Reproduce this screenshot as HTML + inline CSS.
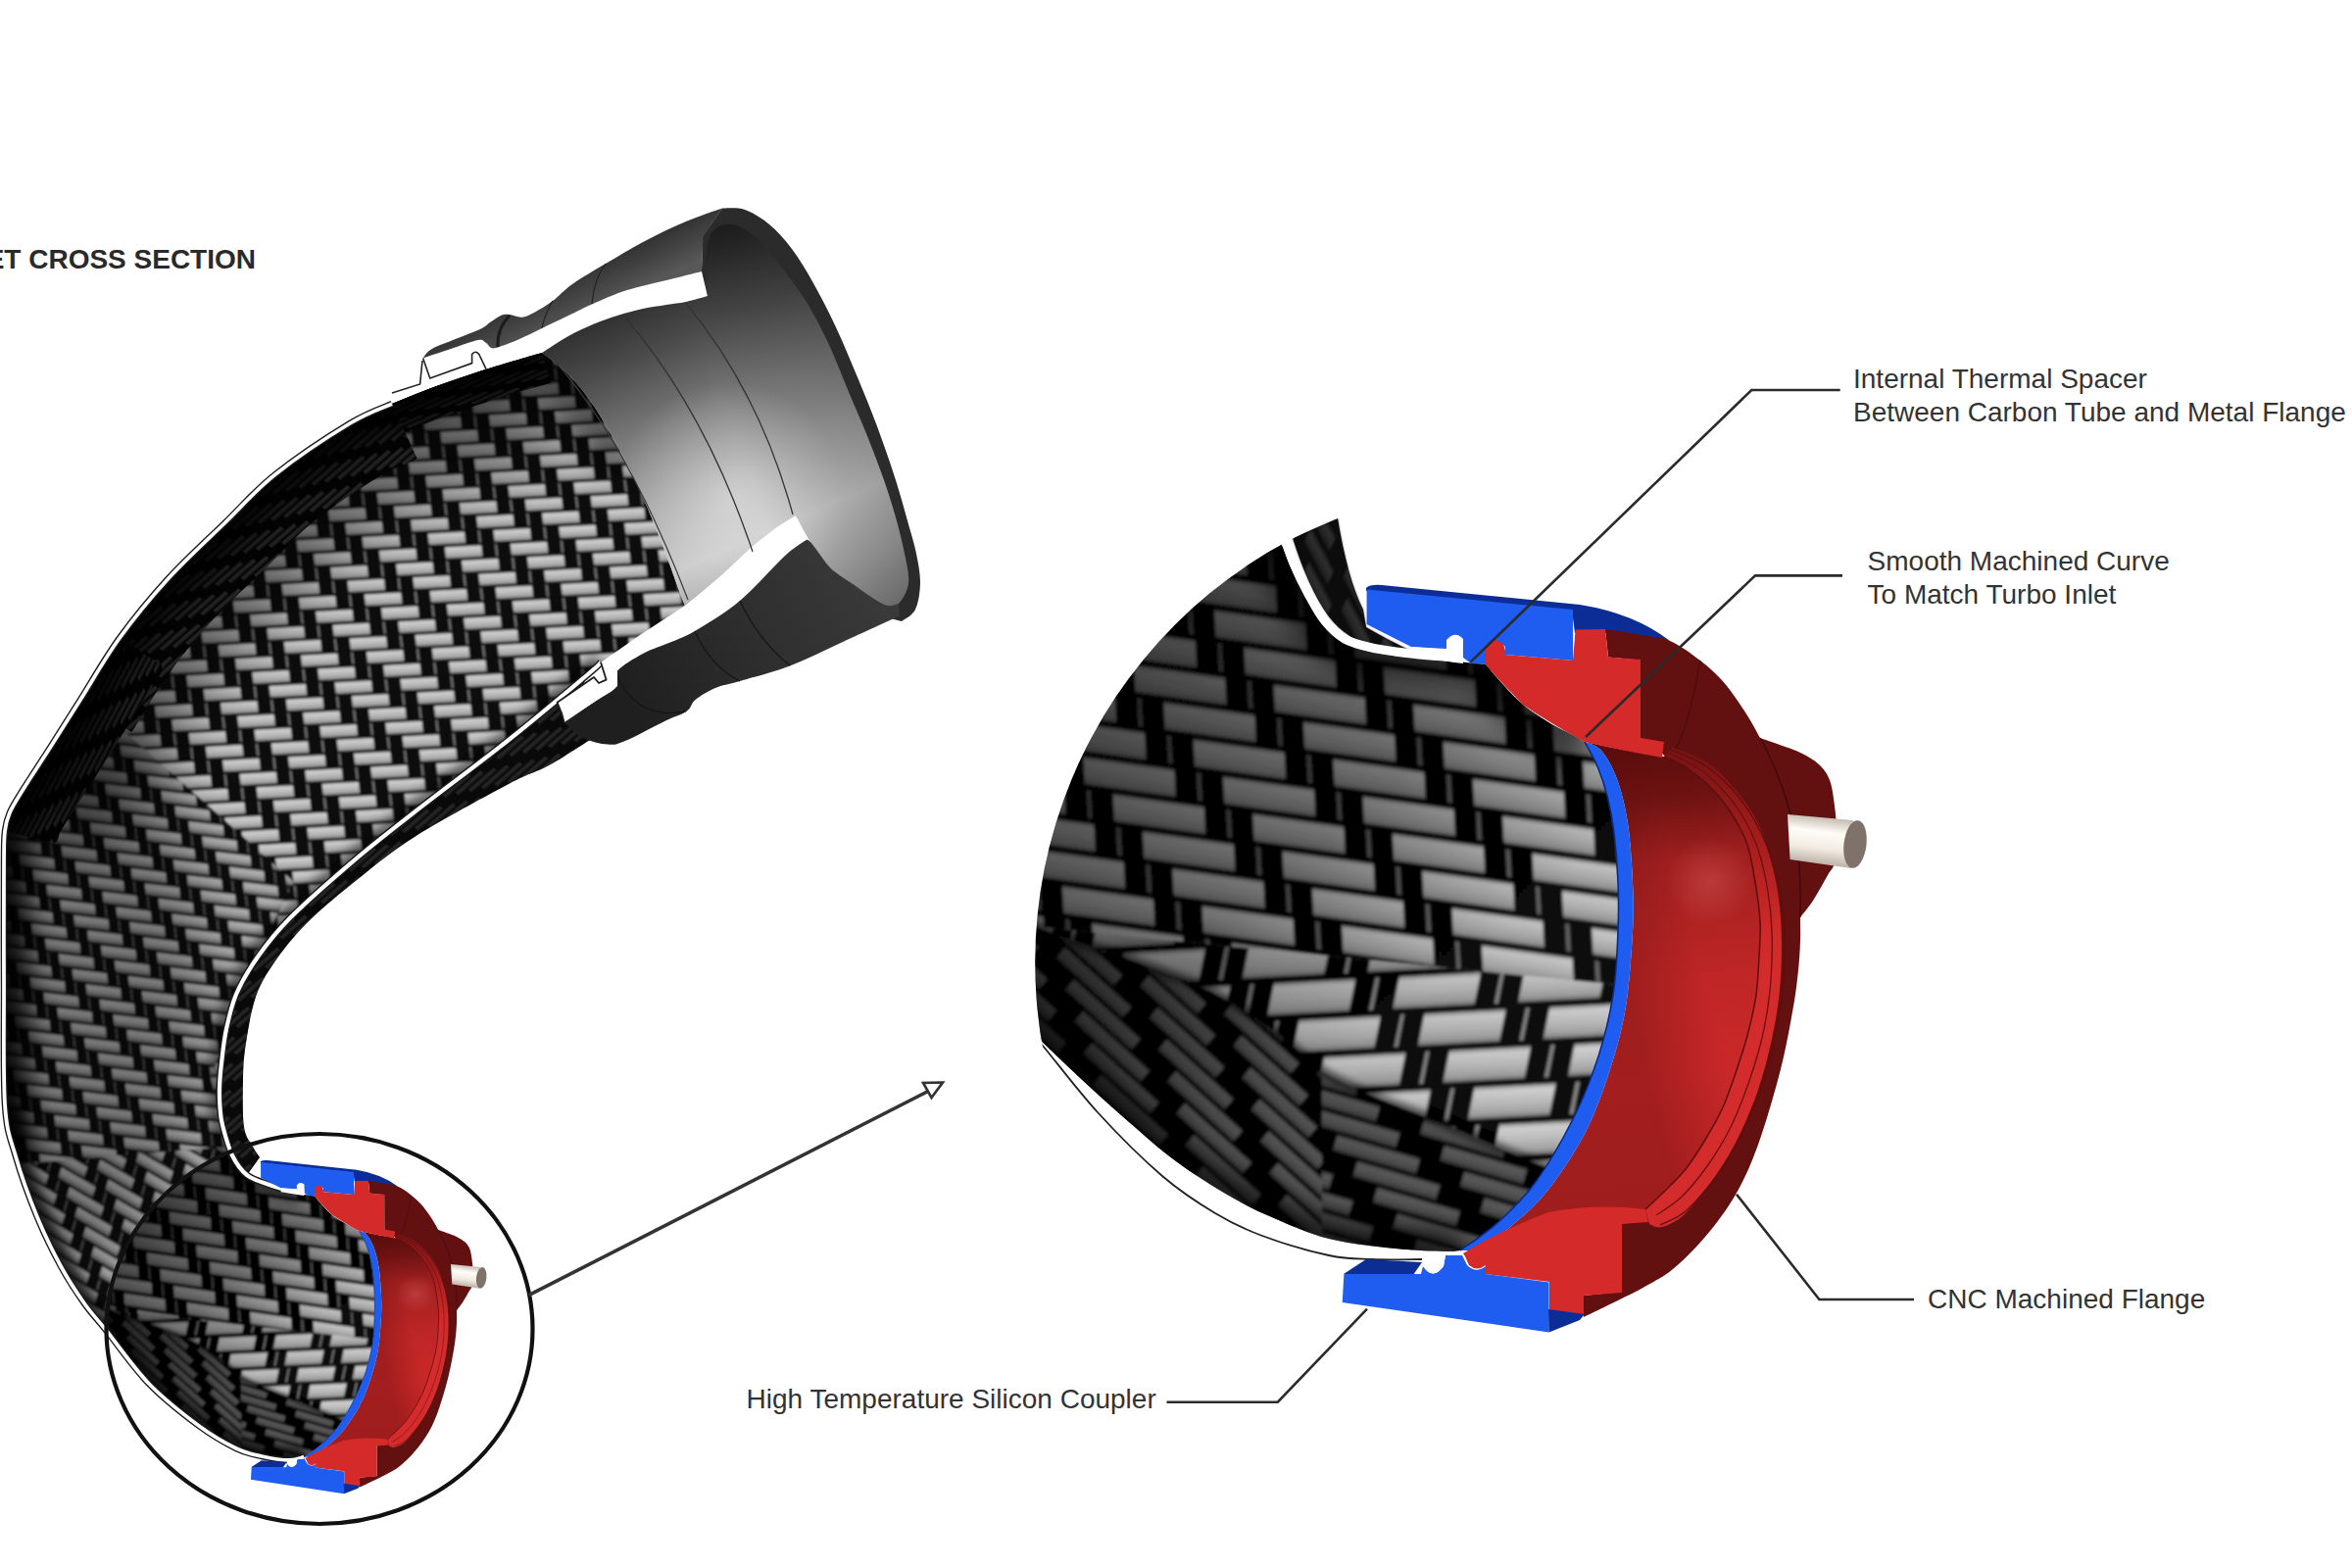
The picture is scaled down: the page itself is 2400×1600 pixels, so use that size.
<!DOCTYPE html>
<html lang="en"><head><meta charset="utf-8"><title>Inlet Cross Section</title>
<style>
html,body{margin:0;padding:0;background:#fff;}
body{width:2400px;height:1600px;overflow:hidden;font-family:"Liberation Sans",Arial,sans-serif;}
svg{display:block;position:absolute;left:0;top:0}
text{font-family:"Liberation Sans",Arial,sans-serif;}
</style></head><body>
<svg width="2400" height="1600" viewBox="0 0 2400 1600">
<defs><linearGradient id="wA1g" x1="0" y1="0" x2="0" y2="1"><stop offset="0" stop-color="#8a8a8a"/><stop offset="0.15" stop-color="#cfcfcf"/><stop offset="0.55" stop-color="#b8b8b8"/><stop offset="0.85" stop-color="#a0a0a0"/><stop offset="1" stop-color="#6e6e6e"/></linearGradient><pattern id="wA1" width="5" height="5" patternUnits="userSpaceOnUse" patternTransform="matrix(12.716,-2.703,3.508,14.069,520,420)"><rect x="-1" y="-1" width="7" height="7" fill="#070707"/><polygon points="0.01,0.07 3.11,0.07 2.99,0.93 -0.11,0.93" fill="url(#wA1g)"/><polygon points="5.01,0.07 8.11,0.07 7.99,0.93 4.89,0.93" fill="url(#wA1g)"/><polygon points="1.01,1.07 4.11,1.07 3.99,1.93 0.89,1.93" fill="url(#wA1g)"/><polygon points="-2.99,2.07 0.11,2.07 -0.01,2.93 -3.11,2.93" fill="url(#wA1g)"/><polygon points="2.01,2.07 5.11,2.07 4.99,2.93 1.89,2.93" fill="url(#wA1g)"/><polygon points="-1.99,3.07 1.11,3.07 0.99,3.93 -2.11,3.93" fill="url(#wA1g)"/><polygon points="3.01,3.07 6.11,3.07 5.99,3.93 2.89,3.93" fill="url(#wA1g)"/><polygon points="-0.99,4.07 2.11,4.07 1.99,4.93 -1.11,4.93" fill="url(#wA1g)"/><polygon points="4.01,4.07 7.11,4.07 6.99,4.93 3.89,4.93" fill="url(#wA1g)"/></pattern><linearGradient id="wAg" x1="0" y1="0" x2="0" y2="1"><stop offset="0" stop-color="#8a8a8a"/><stop offset="0.15" stop-color="#cfcfcf"/><stop offset="0.55" stop-color="#b8b8b8"/><stop offset="0.85" stop-color="#a0a0a0"/><stop offset="1" stop-color="#6e6e6e"/></linearGradient><pattern id="wA" width="5" height="5" patternUnits="userSpaceOnUse" patternTransform="matrix(13.382,-0.701,3.882,14.489,300,550)"><rect x="-1" y="-1" width="7" height="7" fill="#0c0c0c"/><polygon points="0.17,0.09 2.97,0.09 2.83,0.92 0.03,0.92" fill="url(#wAg)"/><polygon points="3.99,0.09 4.15,0.09 4.01,0.92 3.85,0.92" fill="#7a7a7a"/><polygon points="5.17,0.09 7.97,0.09 7.83,0.92 5.03,0.92" fill="url(#wAg)"/><polygon points="-0.01,1.08 0.15,1.08 0.01,1.92 -0.15,1.92" fill="#7a7a7a"/><polygon points="1.17,1.08 3.97,1.08 3.83,1.92 1.03,1.92" fill="url(#wAg)"/><polygon points="4.99,1.08 5.15,1.08 5.01,1.92 4.85,1.92" fill="#7a7a7a"/><polygon points="-2.83,2.08 -0.03,2.08 -0.17,2.92 -2.97,2.92" fill="url(#wAg)"/><polygon points="0.99,2.08 1.15,2.08 1.01,2.92 0.85,2.92" fill="#7a7a7a"/><polygon points="2.17,2.08 4.97,2.08 4.83,2.92 2.03,2.92" fill="url(#wAg)"/><polygon points="-1.83,3.08 0.97,3.08 0.83,3.92 -1.97,3.92" fill="url(#wAg)"/><polygon points="1.99,3.08 2.15,3.08 2.01,3.92 1.85,3.92" fill="#7a7a7a"/><polygon points="3.17,3.08 5.97,3.08 5.83,3.92 3.03,3.92" fill="url(#wAg)"/><polygon points="-0.83,4.08 1.97,4.08 1.83,4.92 -0.97,4.92" fill="url(#wAg)"/><polygon points="2.99,4.08 3.15,4.08 3.01,4.92 2.85,4.92" fill="#7a7a7a"/><polygon points="4.17,4.08 6.97,4.08 6.83,4.92 4.03,4.92" fill="url(#wAg)"/></pattern><linearGradient id="wBg" x1="0" y1="0" x2="0" y2="1"><stop offset="0" stop-color="#6a6a6a"/><stop offset="0.18" stop-color="#b4b4b4"/><stop offset="0.6" stop-color="#9c9c9c"/><stop offset="1" stop-color="#5c5c5c"/></linearGradient><pattern id="wB" width="5" height="5" patternUnits="userSpaceOnUse" patternTransform="matrix(11.414,1.401,2.483,14.083,0,0)"><rect x="-1" y="-1" width="7" height="7" fill="#070707"/><polygon points="-0.01,0.07 3.09,0.07 3.01,0.93 -0.09,0.93" fill="url(#wBg)"/><polygon points="3.96,0.07 4.12,0.07 4.04,0.93 3.88,0.93" fill="#555"/><polygon points="4.99,0.07 8.09,0.07 8.01,0.93 4.91,0.93" fill="url(#wBg)"/><polygon points="-0.04,1.07 0.12,1.07 0.04,1.93 -0.12,1.93" fill="#555"/><polygon points="0.99,1.07 4.09,1.07 4.01,1.93 0.91,1.93" fill="url(#wBg)"/><polygon points="4.96,1.07 5.12,1.07 5.04,1.93 4.88,1.93" fill="#555"/><polygon points="-3.01,2.07 0.09,2.07 0.01,2.93 -3.09,2.93" fill="url(#wBg)"/><polygon points="0.96,2.07 1.12,2.07 1.04,2.93 0.88,2.93" fill="#555"/><polygon points="1.99,2.07 5.09,2.07 5.01,2.93 1.91,2.93" fill="url(#wBg)"/><polygon points="-2.01,3.07 1.09,3.07 1.01,3.93 -2.09,3.93" fill="url(#wBg)"/><polygon points="1.96,3.07 2.12,3.07 2.04,3.93 1.88,3.93" fill="#555"/><polygon points="2.99,3.07 6.09,3.07 6.01,3.93 2.91,3.93" fill="url(#wBg)"/><polygon points="-1.01,4.07 2.09,4.07 2.01,4.93 -1.09,4.93" fill="url(#wBg)"/><polygon points="2.96,4.07 3.12,4.07 3.04,4.93 2.88,4.93" fill="#555"/><polygon points="3.99,4.07 7.09,4.07 7.01,4.93 3.91,4.93" fill="url(#wBg)"/></pattern><linearGradient id="wB2g" x1="0" y1="0" x2="0" y2="1"><stop offset="0" stop-color="#6a6a6a"/><stop offset="0.18" stop-color="#b4b4b4"/><stop offset="0.6" stop-color="#9c9c9c"/><stop offset="1" stop-color="#5c5c5c"/></linearGradient><pattern id="wB2" width="5" height="5" patternUnits="userSpaceOnUse" patternTransform="matrix(11.258,6.500,-2.911,13.694,0,0)"><rect x="-1" y="-1" width="7" height="7" fill="#070707"/><polygon points="-0.01,0.07 3.09,0.07 3.01,0.93 -0.09,0.93" fill="url(#wB2g)"/><polygon points="3.96,0.07 4.12,0.07 4.04,0.93 3.88,0.93" fill="#555"/><polygon points="4.99,0.07 8.09,0.07 8.01,0.93 4.91,0.93" fill="url(#wB2g)"/><polygon points="-0.04,1.07 0.12,1.07 0.04,1.93 -0.12,1.93" fill="#555"/><polygon points="0.99,1.07 4.09,1.07 4.01,1.93 0.91,1.93" fill="url(#wB2g)"/><polygon points="4.96,1.07 5.12,1.07 5.04,1.93 4.88,1.93" fill="#555"/><polygon points="-3.01,2.07 0.09,2.07 0.01,2.93 -3.09,2.93" fill="url(#wB2g)"/><polygon points="0.96,2.07 1.12,2.07 1.04,2.93 0.88,2.93" fill="#555"/><polygon points="1.99,2.07 5.09,2.07 5.01,2.93 1.91,2.93" fill="url(#wB2g)"/><polygon points="-2.01,3.07 1.09,3.07 1.01,3.93 -2.09,3.93" fill="url(#wB2g)"/><polygon points="1.96,3.07 2.12,3.07 2.04,3.93 1.88,3.93" fill="#555"/><polygon points="2.99,3.07 6.09,3.07 6.01,3.93 2.91,3.93" fill="url(#wB2g)"/><polygon points="-1.01,4.07 2.09,4.07 2.01,4.93 -1.09,4.93" fill="url(#wB2g)"/><polygon points="2.96,4.07 3.12,4.07 3.04,4.93 2.88,4.93" fill="#555"/><polygon points="3.99,4.07 7.09,4.07 7.01,4.93 3.91,4.93" fill="url(#wB2g)"/></pattern><linearGradient id="wE1g" x1="0" y1="0" x2="0" y2="1"><stop offset="0" stop-color="#1e1e1e"/><stop offset="0.3" stop-color="#4a4a4a"/><stop offset="0.7" stop-color="#3a3a3a"/><stop offset="1" stop-color="#1a1a1a"/></linearGradient><pattern id="wE1" width="5" height="5" patternUnits="userSpaceOnUse" patternTransform="matrix(8.302,-7.217,4.906,4.264,0,0)"><rect x="-1" y="-1" width="7" height="7" fill="#070707"/><polygon points="-0.05,0.10 3.05,0.10 3.05,0.90 -0.05,0.90" fill="url(#wE1g)"/><polygon points="4.95,0.10 8.05,0.10 8.05,0.90 4.95,0.90" fill="url(#wE1g)"/><polygon points="0.95,1.10 4.05,1.10 4.05,1.90 0.95,1.90" fill="url(#wE1g)"/><polygon points="-3.05,2.10 0.05,2.10 0.05,2.90 -3.05,2.90" fill="url(#wE1g)"/><polygon points="1.95,2.10 5.05,2.10 5.05,2.90 1.95,2.90" fill="url(#wE1g)"/><polygon points="-2.05,3.10 1.05,3.10 1.05,3.90 -2.05,3.90" fill="url(#wE1g)"/><polygon points="2.95,3.10 6.05,3.10 6.05,3.90 2.95,3.90" fill="url(#wE1g)"/><polygon points="-1.05,4.10 2.05,4.10 2.05,4.90 -1.05,4.90" fill="url(#wE1g)"/><polygon points="3.95,4.10 7.05,4.10 7.05,4.90 3.95,4.90" fill="url(#wE1g)"/></pattern><linearGradient id="wE2g" x1="0" y1="0" x2="0" y2="1"><stop offset="0" stop-color="#1e1e1e"/><stop offset="0.3" stop-color="#4a4a4a"/><stop offset="0.7" stop-color="#3a3a3a"/><stop offset="1" stop-color="#1a1a1a"/></linearGradient><pattern id="wE2" width="5" height="5" patternUnits="userSpaceOnUse" patternTransform="matrix(5.164,-9.712,3.052,5.739,0,0)"><rect x="-1" y="-1" width="7" height="7" fill="#070707"/><polygon points="-0.05,0.10 3.05,0.10 3.05,0.90 -0.05,0.90" fill="url(#wE2g)"/><polygon points="4.95,0.10 8.05,0.10 8.05,0.90 4.95,0.90" fill="url(#wE2g)"/><polygon points="0.95,1.10 4.05,1.10 4.05,1.90 0.95,1.90" fill="url(#wE2g)"/><polygon points="-3.05,2.10 0.05,2.10 0.05,2.90 -3.05,2.90" fill="url(#wE2g)"/><polygon points="1.95,2.10 5.05,2.10 5.05,2.90 1.95,2.90" fill="url(#wE2g)"/><polygon points="-2.05,3.10 1.05,3.10 1.05,3.90 -2.05,3.90" fill="url(#wE2g)"/><polygon points="2.95,3.10 6.05,3.10 6.05,3.90 2.95,3.90" fill="url(#wE2g)"/><polygon points="-1.05,4.10 2.05,4.10 2.05,4.90 -1.05,4.90" fill="url(#wE2g)"/><polygon points="3.95,4.10 7.05,4.10 7.05,4.90 3.95,4.90" fill="url(#wE2g)"/></pattern><linearGradient id="wE3g" x1="0" y1="0" x2="0" y2="1"><stop offset="0" stop-color="#1e1e1e"/><stop offset="0.3" stop-color="#4a4a4a"/><stop offset="0.7" stop-color="#3a3a3a"/><stop offset="1" stop-color="#1a1a1a"/></linearGradient><pattern id="wE3" width="5" height="5" patternUnits="userSpaceOnUse" patternTransform="matrix(10.049,-4.474,5.938,2.644,0,0)"><rect x="-1" y="-1" width="7" height="7" fill="#070707"/><polygon points="-0.05,0.10 3.05,0.10 3.05,0.90 -0.05,0.90" fill="url(#wE3g)"/><polygon points="4.95,0.10 8.05,0.10 8.05,0.90 4.95,0.90" fill="url(#wE3g)"/><polygon points="0.95,1.10 4.05,1.10 4.05,1.90 0.95,1.90" fill="url(#wE3g)"/><polygon points="-3.05,2.10 0.05,2.10 0.05,2.90 -3.05,2.90" fill="url(#wE3g)"/><polygon points="1.95,2.10 5.05,2.10 5.05,2.90 1.95,2.90" fill="url(#wE3g)"/><polygon points="-2.05,3.10 1.05,3.10 1.05,3.90 -2.05,3.90" fill="url(#wE3g)"/><polygon points="2.95,3.10 6.05,3.10 6.05,3.90 2.95,3.90" fill="url(#wE3g)"/><polygon points="-1.05,4.10 2.05,4.10 2.05,4.90 -1.05,4.90" fill="url(#wE3g)"/><polygon points="3.95,4.10 7.05,4.10 7.05,4.90 3.95,4.90" fill="url(#wE3g)"/></pattern><linearGradient id="wTg" x1="0" y1="0" x2="0" y2="1"><stop offset="0" stop-color="#1e1e1e"/><stop offset="0.3" stop-color="#4a4a4a"/><stop offset="0.7" stop-color="#3a3a3a"/><stop offset="1" stop-color="#1a1a1a"/></linearGradient><pattern id="wT" width="5" height="5" patternUnits="userSpaceOnUse" patternTransform="matrix(7.512,14.127,-9.298,19.939,1300,500)"><rect x="-1" y="-1" width="7" height="7" fill="#070707"/><polygon points="-0.05,0.10 3.05,0.10 3.05,0.90 -0.05,0.90" fill="url(#wTg)"/><polygon points="4.95,0.10 8.05,0.10 8.05,0.90 4.95,0.90" fill="url(#wTg)"/><polygon points="0.95,1.10 4.05,1.10 4.05,1.90 0.95,1.90" fill="url(#wTg)"/><polygon points="-3.05,2.10 0.05,2.10 0.05,2.90 -3.05,2.90" fill="url(#wTg)"/><polygon points="1.95,2.10 5.05,2.10 5.05,2.90 1.95,2.90" fill="url(#wTg)"/><polygon points="-2.05,3.10 1.05,3.10 1.05,3.90 -2.05,3.90" fill="url(#wTg)"/><polygon points="2.95,3.10 6.05,3.10 6.05,3.90 2.95,3.90" fill="url(#wTg)"/><polygon points="-1.05,4.10 2.05,4.10 2.05,4.90 -1.05,4.90" fill="url(#wTg)"/><polygon points="3.95,4.10 7.05,4.10 7.05,4.90 3.95,4.90" fill="url(#wTg)"/></pattern><linearGradient id="wZ1g" x1="0" y1="0" x2="0" y2="1"><stop offset="0" stop-color="#8a8a8a"/><stop offset="0.15" stop-color="#cfcfcf"/><stop offset="0.55" stop-color="#b8b8b8"/><stop offset="0.85" stop-color="#a0a0a0"/><stop offset="1" stop-color="#6e6e6e"/></linearGradient><pattern id="wZ1" width="5" height="5" patternUnits="userSpaceOnUse" patternTransform="matrix(28.520,4.008,1.779,33.953,1100,600)"><rect x="-1" y="-1" width="7" height="7" fill="#070707"/><polygon points="-0.13,0.08 3.13,0.08 3.13,0.92 -0.13,0.92" fill="url(#wZ1g)"/><polygon points="3.92,0.08 4.08,0.08 4.08,0.92 3.92,0.92" fill="#666"/><polygon points="4.87,0.08 8.13,0.08 8.13,0.92 4.87,0.92" fill="url(#wZ1g)"/><polygon points="-0.08,1.08 0.08,1.08 0.08,1.92 -0.08,1.92" fill="#666"/><polygon points="0.87,1.08 4.13,1.08 4.13,1.92 0.87,1.92" fill="url(#wZ1g)"/><polygon points="4.92,1.08 5.08,1.08 5.08,1.92 4.92,1.92" fill="#666"/><polygon points="-3.13,2.08 0.13,2.08 0.13,2.92 -3.13,2.92" fill="url(#wZ1g)"/><polygon points="0.92,2.08 1.08,2.08 1.08,2.92 0.92,2.92" fill="#666"/><polygon points="1.87,2.08 5.13,2.08 5.13,2.92 1.87,2.92" fill="url(#wZ1g)"/><polygon points="-2.13,3.08 1.13,3.08 1.13,3.92 -2.13,3.92" fill="url(#wZ1g)"/><polygon points="1.92,3.08 2.08,3.08 2.08,3.92 1.92,3.92" fill="#666"/><polygon points="2.87,3.08 6.13,3.08 6.13,3.92 2.87,3.92" fill="url(#wZ1g)"/><polygon points="-1.13,4.08 2.13,4.08 2.13,4.92 -1.13,4.92" fill="url(#wZ1g)"/><polygon points="2.92,4.08 3.08,4.08 3.08,4.92 2.92,4.92" fill="#666"/><polygon points="3.87,4.08 7.13,4.08 7.13,4.92 3.87,4.92" fill="url(#wZ1g)"/></pattern><linearGradient id="wZ2g" x1="0" y1="0" x2="0" y2="1"><stop offset="0" stop-color="#8a8a8a"/><stop offset="0.15" stop-color="#cfcfcf"/><stop offset="0.55" stop-color="#b8b8b8"/><stop offset="0.85" stop-color="#a0a0a0"/><stop offset="1" stop-color="#6e6e6e"/></linearGradient><pattern id="wZ2" width="5" height="5" patternUnits="userSpaceOnUse" patternTransform="matrix(25.565,-1.340,0.000,39.000,1300,1000)"><rect x="-1" y="-1" width="7" height="7" fill="#070707"/><polygon points="0.00,0.08 3.26,0.08 3.00,0.92 -0.26,0.92" fill="url(#wZ2g)"/><polygon points="4.05,0.08 4.21,0.08 3.95,0.92 3.79,0.92" fill="#888"/><polygon points="5.00,0.08 8.26,0.08 8.00,0.92 4.74,0.92" fill="url(#wZ2g)"/><polygon points="0.05,1.08 0.21,1.08 -0.05,1.92 -0.21,1.92" fill="#888"/><polygon points="1.00,1.08 4.26,1.08 4.00,1.92 0.74,1.92" fill="url(#wZ2g)"/><polygon points="5.05,1.08 5.21,1.08 4.95,1.92 4.79,1.92" fill="#888"/><polygon points="-3.00,2.08 0.26,2.08 -0.00,2.92 -3.26,2.92" fill="url(#wZ2g)"/><polygon points="1.05,2.08 1.21,2.08 0.95,2.92 0.79,2.92" fill="#888"/><polygon points="2.00,2.08 5.26,2.08 5.00,2.92 1.74,2.92" fill="url(#wZ2g)"/><polygon points="-2.00,3.08 1.26,3.08 1.00,3.92 -2.26,3.92" fill="url(#wZ2g)"/><polygon points="2.05,3.08 2.21,3.08 1.95,3.92 1.79,3.92" fill="#888"/><polygon points="3.00,3.08 6.26,3.08 6.00,3.92 2.74,3.92" fill="url(#wZ2g)"/><polygon points="-1.00,4.08 2.26,4.08 2.00,4.92 -1.26,4.92" fill="url(#wZ2g)"/><polygon points="3.05,4.08 3.21,4.08 2.95,4.92 2.79,4.92" fill="#888"/><polygon points="4.00,4.08 7.26,4.08 7.00,4.92 3.74,4.92" fill="url(#wZ2g)"/></pattern><linearGradient id="wZ3ag" x1="0" y1="0" x2="0" y2="1"><stop offset="0" stop-color="#555"/><stop offset="0.2" stop-color="#8a8a8a"/><stop offset="0.7" stop-color="#777"/><stop offset="1" stop-color="#4a4a4a"/></linearGradient><pattern id="wZ3a" width="5" height="5" patternUnits="userSpaceOnUse" patternTransform="matrix(20.808,18.736,-11.570,13.789,1100,1000)"><rect x="-1" y="-1" width="7" height="7" fill="#070707"/><polygon points="-0.13,0.08 3.13,0.08 3.13,0.92 -0.13,0.92" fill="url(#wZ3ag)"/><polygon points="4.87,0.08 8.13,0.08 8.13,0.92 4.87,0.92" fill="url(#wZ3ag)"/><polygon points="0.87,1.08 4.13,1.08 4.13,1.92 0.87,1.92" fill="url(#wZ3ag)"/><polygon points="-3.13,2.08 0.13,2.08 0.13,2.92 -3.13,2.92" fill="url(#wZ3ag)"/><polygon points="1.87,2.08 5.13,2.08 5.13,2.92 1.87,2.92" fill="url(#wZ3ag)"/><polygon points="-2.13,3.08 1.13,3.08 1.13,3.92 -2.13,3.92" fill="url(#wZ3ag)"/><polygon points="2.87,3.08 6.13,3.08 6.13,3.92 2.87,3.92" fill="url(#wZ3ag)"/><polygon points="-1.13,4.08 2.13,4.08 2.13,4.92 -1.13,4.92" fill="url(#wZ3ag)"/><polygon points="3.87,4.08 7.13,4.08 7.13,4.92 3.87,4.92" fill="url(#wZ3ag)"/></pattern><linearGradient id="wZ3bg" x1="0" y1="0" x2="0" y2="1"><stop offset="0" stop-color="#555"/><stop offset="0.2" stop-color="#8a8a8a"/><stop offset="0.7" stop-color="#777"/><stop offset="1" stop-color="#4a4a4a"/></linearGradient><pattern id="wZ3b" width="5" height="5" patternUnits="userSpaceOnUse" patternTransform="matrix(25.954,7.442,-5.513,19.225,1300,1200)"><rect x="-1" y="-1" width="7" height="7" fill="#070707"/><polygon points="-0.13,0.08 3.13,0.08 3.13,0.92 -0.13,0.92" fill="url(#wZ3bg)"/><polygon points="4.87,0.08 8.13,0.08 8.13,0.92 4.87,0.92" fill="url(#wZ3bg)"/><polygon points="0.87,1.08 4.13,1.08 4.13,1.92 0.87,1.92" fill="url(#wZ3bg)"/><polygon points="-3.13,2.08 0.13,2.08 0.13,2.92 -3.13,2.92" fill="url(#wZ3bg)"/><polygon points="1.87,2.08 5.13,2.08 5.13,2.92 1.87,2.92" fill="url(#wZ3bg)"/><polygon points="-2.13,3.08 1.13,3.08 1.13,3.92 -2.13,3.92" fill="url(#wZ3bg)"/><polygon points="2.87,3.08 6.13,3.08 6.13,3.92 2.87,3.92" fill="url(#wZ3bg)"/><polygon points="-1.13,4.08 2.13,4.08 2.13,4.92 -1.13,4.92" fill="url(#wZ3bg)"/><polygon points="3.87,4.08 7.13,4.08 7.13,4.92 3.87,4.92" fill="url(#wZ3bg)"/></pattern><filter id="b1" x="-30%" y="-30%" width="160%" height="160%"><feGaussianBlur stdDeviation="0.8"/></filter><filter id="b1d" x="-30%" y="-30%" width="160%" height="160%"><feGaussianBlur stdDeviation="1.6"/></filter><filter id="b3" x="-30%" y="-30%" width="160%" height="160%"><feGaussianBlur stdDeviation="3"/></filter><filter id="b6" x="-30%" y="-30%" width="160%" height="160%"><feGaussianBlur stdDeviation="6"/></filter><filter id="b14" x="-30%" y="-30%" width="160%" height="160%"><feGaussianBlur stdDeviation="14"/></filter><filter id="b30" x="-30%" y="-30%" width="160%" height="160%"><feGaussianBlur stdDeviation="30"/></filter><linearGradient id="gDome" gradientUnits="userSpaceOnUse" x1="1690" y1="765" x2="1730" y2="1240"><stop offset="0" stop-color="#5c0d0d"/><stop offset="0.1" stop-color="#6e1212"/><stop offset="0.24" stop-color="#a01f1f"/><stop offset="0.5" stop-color="#c02626"/><stop offset="0.7" stop-color="#ca2828"/><stop offset="1" stop-color="#c42626"/></linearGradient><linearGradient id="gDomeL" gradientUnits="userSpaceOnUse" x1="1655" y1="1000" x2="1735" y2="980"><stop offset="0" stop-color="#5a0c0c" stop-opacity="0.35"/><stop offset="1" stop-color="#5a0c0c" stop-opacity="0"/></linearGradient><radialGradient id="gDomeH" gradientUnits="userSpaceOnUse" cx="1745" cy="900" r="45"><stop offset="0" stop-color="#e06a6a" stop-opacity="0.35"/><stop offset="1" stop-color="#e06a6a" stop-opacity="0"/></radialGradient><linearGradient id="gRim" gradientUnits="userSpaceOnUse" x1="1750" y1="770" x2="1790" y2="1000"><stop offset="0" stop-color="#7a1414"/><stop offset="0.4" stop-color="#a51d1d"/><stop offset="0.8" stop-color="#cf2929"/><stop offset="1" stop-color="#d42c2c"/></linearGradient><linearGradient id="gBody" gradientUnits="userSpaceOnUse" x1="1812" y1="1000" x2="1838" y2="1006"><stop offset="0" stop-color="#8e1818"/><stop offset="1" stop-color="#5a0e0e"/></linearGradient><linearGradient id="gPin" gradientUnits="userSpaceOnUse" x1="1856" y1="834" x2="1850" y2="882"><stop offset="0" stop-color="#c9c0b6"/><stop offset="0.3" stop-color="#fffdf8"/><stop offset="0.65" stop-color="#f1ebe1"/><stop offset="1" stop-color="#b8afa5"/></linearGradient><g id="flange"><path d="M1394,600 Q1398,596 1410,597 L1612,617 Q1668,626 1704,654 L1640,646 L1607,646 L1604,623 L1394,603 Z" fill="#0c2d96"/><path d="M1638.0,642.0 C1644.2,643.0 1664.0,646.0 1675.0,648.0 C1686.0,650.0 1694.0,649.7 1704.0,654.0 C1714.0,658.3 1726.2,667.3 1735.0,674.0 C1743.8,680.7 1750.7,687.2 1757.0,694.0 C1763.3,700.8 1768.2,708.2 1773.0,715.0 C1777.8,721.8 1782.2,728.7 1786.0,735.0 C1789.8,741.3 1794.3,750.0 1796.0,753.0 C1799.3,754.2 1809.2,757.5 1816.0,760.0 C1822.8,762.5 1830.3,764.7 1837.0,768.0 C1843.7,771.3 1851.0,775.3 1856.0,780.0 C1861.0,784.7 1864.3,789.0 1867.0,796.0 C1869.7,803.0 1870.8,813.0 1872.0,822.0 C1873.2,831.0 1874.0,840.3 1874.0,850.0 C1874.0,859.7 1873.5,872.8 1872.0,880.0 C1870.5,887.2 1868.7,886.5 1865.0,893.0 C1861.3,899.5 1854.7,911.8 1850.0,919.0 C1845.3,926.2 1839.2,933.2 1837.0,936.0 C1837.0,940.0 1837.3,951.0 1837.0,960.0 C1836.7,969.0 1836.2,978.8 1835.0,990.0 C1833.8,1001.2 1833.0,1010.2 1830.0,1027.0 C1827.0,1043.8 1823.0,1067.5 1817.0,1091.0 C1811.0,1114.5 1801.7,1146.7 1794.0,1168.0 C1786.3,1189.3 1780.0,1203.3 1771.0,1219.0 C1762.0,1234.7 1750.7,1249.3 1740.0,1262.0 C1729.3,1274.7 1717.0,1286.7 1707.0,1295.0 C1697.0,1303.3 1688.7,1307.0 1680.0,1312.0 C1671.3,1317.0 1665.7,1319.7 1655.0,1325.0 C1644.3,1330.3 1622.5,1340.8 1616.0,1344.0 L1616,1322 L1655,1318 L1655,1249 L1700,1200 L1700,772 L1674,753 L1674,673 L1641,670 Z" fill="#621010"/><path d="M1796,753 Q1822,800 1834,860 Q1838,900 1837,936" fill="none" stroke="#3f0909" stroke-width="1.4"/><path d="M1641,670 L1674,673 M1700,772 Q1718,770 1735,674" fill="none" stroke="#4a0b0b" stroke-width="1.2"/><path d="M1698.0,772.0 C1702.0,774.0 1713.7,778.3 1722.0,784.0 C1730.3,789.7 1740.3,798.0 1748.0,806.0 C1755.7,814.0 1762.2,822.7 1768.0,832.0 C1773.8,841.3 1779.2,850.7 1783.0,862.0 C1786.8,873.3 1788.8,887.0 1791.0,900.0 C1793.2,913.0 1795.3,927.3 1796.0,940.0 C1796.7,952.7 1795.7,963.5 1795.0,976.0 C1794.3,988.5 1793.8,1002.2 1792.0,1015.0 C1790.2,1027.8 1787.3,1040.2 1784.0,1053.0 C1780.7,1065.8 1776.3,1079.2 1772.0,1092.0 C1767.7,1104.8 1763.3,1118.2 1758.0,1130.0 C1752.7,1141.8 1746.3,1152.5 1740.0,1163.0 C1733.7,1173.5 1727.0,1184.2 1720.0,1193.0 C1713.0,1201.8 1704.8,1209.2 1698.0,1216.0 C1691.2,1222.8 1682.2,1231.0 1679.0,1234.0 L1683,1249 C1685.2,1249.5 1689.8,1253.8 1696.0,1252.0 C1702.2,1250.2 1711.2,1246.3 1720.0,1238.0 C1728.8,1229.7 1740.2,1214.7 1749.0,1202.0 C1757.8,1189.3 1765.5,1177.0 1773.0,1162.0 C1780.5,1147.0 1788.2,1129.0 1794.0,1112.0 C1799.8,1095.0 1804.3,1077.0 1808.0,1060.0 C1811.7,1043.0 1814.3,1026.7 1816.0,1010.0 C1817.7,993.3 1818.2,975.5 1818.0,960.0 C1817.8,944.5 1816.8,930.7 1815.0,917.0 C1813.2,903.3 1810.5,890.8 1807.0,878.0 C1803.5,865.2 1800.0,852.0 1794.0,840.0 C1788.0,828.0 1779.7,816.3 1771.0,806.0 C1762.3,795.7 1752.7,785.2 1742.0,778.0 C1731.3,770.8 1712.8,765.5 1707.0,763.0 Z" fill="url(#gRim)"/><path d="M1617.0,757.0 C1623.5,758.3 1642.5,762.5 1656.0,765.0 C1669.5,767.5 1691.0,770.8 1698.0,772.0 C1702.0,774.0 1713.7,778.3 1722.0,784.0 C1730.3,789.7 1740.3,798.0 1748.0,806.0 C1755.7,814.0 1762.2,822.7 1768.0,832.0 C1773.8,841.3 1779.2,850.7 1783.0,862.0 C1786.8,873.3 1788.8,887.0 1791.0,900.0 C1793.2,913.0 1795.3,927.3 1796.0,940.0 C1796.7,952.7 1795.7,963.5 1795.0,976.0 C1794.3,988.5 1793.8,1002.2 1792.0,1015.0 C1790.2,1027.8 1787.3,1040.2 1784.0,1053.0 C1780.7,1065.8 1776.3,1079.2 1772.0,1092.0 C1767.7,1104.8 1763.3,1118.2 1758.0,1130.0 C1752.7,1141.8 1746.3,1152.5 1740.0,1163.0 C1733.7,1173.5 1727.0,1184.2 1720.0,1193.0 C1713.0,1201.8 1704.8,1209.2 1698.0,1216.0 C1691.2,1222.8 1682.2,1231.0 1679.0,1234.0 C1670.8,1237.7 1646.5,1235.2 1630.0,1236.0 C1613.5,1236.8 1594.2,1239.7 1580.0,1243.0 C1565.8,1246.3 1557.0,1249.8 1545.0,1256.0 C1533.0,1262.2 1514.2,1276.0 1508.0,1280.0 C1513.5,1272.0 1529.0,1262.3 1541.0,1252.0 C1553.0,1241.7 1567.2,1230.2 1580.0,1214.0 C1592.8,1197.8 1607.5,1175.5 1618.0,1155.0 C1628.5,1134.5 1636.2,1112.3 1643.0,1091.0 C1649.8,1069.7 1655.2,1050.3 1659.0,1027.0 C1662.8,1003.7 1664.8,972.2 1666.0,951.0 C1667.2,929.8 1666.8,918.5 1666.0,900.0 C1665.2,881.5 1663.7,857.5 1661.0,840.0 C1658.3,822.5 1654.5,807.3 1650.0,795.0 C1645.5,782.7 1639.5,772.3 1634.0,766.0 C1628.5,759.7 1619.8,758.5 1617.0,757.0 Z" fill="url(#gDome)"/><path d="M1617.0,757.0 C1623.5,758.3 1642.5,762.5 1656.0,765.0 C1669.5,767.5 1691.0,770.8 1698.0,772.0 C1702.0,774.0 1713.7,778.3 1722.0,784.0 C1730.3,789.7 1740.3,798.0 1748.0,806.0 C1755.7,814.0 1762.2,822.7 1768.0,832.0 C1773.8,841.3 1779.2,850.7 1783.0,862.0 C1786.8,873.3 1788.8,887.0 1791.0,900.0 C1793.2,913.0 1795.3,927.3 1796.0,940.0 C1796.7,952.7 1795.7,963.5 1795.0,976.0 C1794.3,988.5 1793.8,1002.2 1792.0,1015.0 C1790.2,1027.8 1787.3,1040.2 1784.0,1053.0 C1780.7,1065.8 1776.3,1079.2 1772.0,1092.0 C1767.7,1104.8 1763.3,1118.2 1758.0,1130.0 C1752.7,1141.8 1746.3,1152.5 1740.0,1163.0 C1733.7,1173.5 1727.0,1184.2 1720.0,1193.0 C1713.0,1201.8 1704.8,1209.2 1698.0,1216.0 C1691.2,1222.8 1682.2,1231.0 1679.0,1234.0 C1670.8,1237.7 1646.5,1235.2 1630.0,1236.0 C1613.5,1236.8 1594.2,1239.7 1580.0,1243.0 C1565.8,1246.3 1557.0,1249.8 1545.0,1256.0 C1533.0,1262.2 1514.2,1276.0 1508.0,1280.0 C1513.5,1272.0 1529.0,1262.3 1541.0,1252.0 C1553.0,1241.7 1567.2,1230.2 1580.0,1214.0 C1592.8,1197.8 1607.5,1175.5 1618.0,1155.0 C1628.5,1134.5 1636.2,1112.3 1643.0,1091.0 C1649.8,1069.7 1655.2,1050.3 1659.0,1027.0 C1662.8,1003.7 1664.8,972.2 1666.0,951.0 C1667.2,929.8 1666.8,918.5 1666.0,900.0 C1665.2,881.5 1663.7,857.5 1661.0,840.0 C1658.3,822.5 1654.5,807.3 1650.0,795.0 C1645.5,782.7 1639.5,772.3 1634.0,766.0 C1628.5,759.7 1619.8,758.5 1617.0,757.0 Z" fill="url(#gDomeL)"/><path d="M1617.0,757.0 C1623.5,758.3 1642.5,762.5 1656.0,765.0 C1669.5,767.5 1691.0,770.8 1698.0,772.0 C1702.0,774.0 1713.7,778.3 1722.0,784.0 C1730.3,789.7 1740.3,798.0 1748.0,806.0 C1755.7,814.0 1762.2,822.7 1768.0,832.0 C1773.8,841.3 1779.2,850.7 1783.0,862.0 C1786.8,873.3 1788.8,887.0 1791.0,900.0 C1793.2,913.0 1795.3,927.3 1796.0,940.0 C1796.7,952.7 1795.7,963.5 1795.0,976.0 C1794.3,988.5 1793.8,1002.2 1792.0,1015.0 C1790.2,1027.8 1787.3,1040.2 1784.0,1053.0 C1780.7,1065.8 1776.3,1079.2 1772.0,1092.0 C1767.7,1104.8 1763.3,1118.2 1758.0,1130.0 C1752.7,1141.8 1746.3,1152.5 1740.0,1163.0 C1733.7,1173.5 1727.0,1184.2 1720.0,1193.0 C1713.0,1201.8 1704.8,1209.2 1698.0,1216.0 C1691.2,1222.8 1682.2,1231.0 1679.0,1234.0 C1670.8,1237.7 1646.5,1235.2 1630.0,1236.0 C1613.5,1236.8 1594.2,1239.7 1580.0,1243.0 C1565.8,1246.3 1557.0,1249.8 1545.0,1256.0 C1533.0,1262.2 1514.2,1276.0 1508.0,1280.0 C1513.5,1272.0 1529.0,1262.3 1541.0,1252.0 C1553.0,1241.7 1567.2,1230.2 1580.0,1214.0 C1592.8,1197.8 1607.5,1175.5 1618.0,1155.0 C1628.5,1134.5 1636.2,1112.3 1643.0,1091.0 C1649.8,1069.7 1655.2,1050.3 1659.0,1027.0 C1662.8,1003.7 1664.8,972.2 1666.0,951.0 C1667.2,929.8 1666.8,918.5 1666.0,900.0 C1665.2,881.5 1663.7,857.5 1661.0,840.0 C1658.3,822.5 1654.5,807.3 1650.0,795.0 C1645.5,782.7 1639.5,772.3 1634.0,766.0 C1628.5,759.7 1619.8,758.5 1617.0,757.0 Z" fill="url(#gDomeH)"/><path d="M1698.0,772.0 C1702.0,774.0 1713.7,778.3 1722.0,784.0 C1730.3,789.7 1740.3,798.0 1748.0,806.0 C1755.7,814.0 1762.2,822.7 1768.0,832.0 C1773.8,841.3 1779.2,850.7 1783.0,862.0 C1786.8,873.3 1788.8,887.0 1791.0,900.0 C1793.2,913.0 1795.3,927.3 1796.0,940.0 C1796.7,952.7 1795.7,963.5 1795.0,976.0 C1794.3,988.5 1793.8,1002.2 1792.0,1015.0 C1790.2,1027.8 1787.3,1040.2 1784.0,1053.0 C1780.7,1065.8 1776.3,1079.2 1772.0,1092.0 C1767.7,1104.8 1763.3,1118.2 1758.0,1130.0 C1752.7,1141.8 1746.3,1152.5 1740.0,1163.0 C1733.7,1173.5 1727.0,1184.2 1720.0,1193.0 C1713.0,1201.8 1704.8,1209.2 1698.0,1216.0 C1691.2,1222.8 1682.2,1231.0 1679.0,1234.0" fill="none" stroke="#5e0e0e" stroke-width="1.5"/><path d="M1702.0,768.0 C1706.7,770.3 1720.7,775.7 1730.0,782.0 C1739.3,788.3 1749.7,797.0 1758.0,806.0 C1766.3,815.0 1773.8,825.3 1780.0,836.0 C1786.2,846.7 1791.0,857.7 1795.0,870.0 C1799.0,882.3 1801.8,896.7 1804.0,910.0 C1806.2,923.3 1807.5,935.0 1808.0,950.0 C1808.5,965.0 1808.3,983.3 1807.0,1000.0 C1805.7,1016.7 1803.5,1033.3 1800.0,1050.0 C1796.5,1066.7 1791.7,1083.3 1786.0,1100.0 C1780.3,1116.7 1773.3,1135.0 1766.0,1150.0 C1758.7,1165.0 1750.5,1178.0 1742.0,1190.0 C1733.5,1202.0 1723.7,1213.7 1715.0,1222.0 C1706.3,1230.3 1694.2,1237.0 1690.0,1240.0" fill="none" stroke="#6b1010" stroke-width="1.3"/><path d="M1705.0,765.0 C1710.5,767.5 1727.5,773.2 1738.0,780.0 C1748.5,786.8 1759.2,796.3 1768.0,806.0 C1776.8,815.7 1784.5,826.5 1791.0,838.0 C1797.5,849.5 1802.7,862.2 1807.0,875.0 C1811.3,887.8 1814.7,900.8 1817.0,915.0 C1819.3,929.2 1820.7,944.2 1821.0,960.0 C1821.3,975.8 1820.7,993.3 1819.0,1010.0 C1817.3,1026.7 1814.8,1043.0 1811.0,1060.0 C1807.2,1077.0 1802.0,1095.0 1796.0,1112.0 C1790.0,1129.0 1782.7,1147.0 1775.0,1162.0 C1767.3,1177.0 1759.2,1189.7 1750.0,1202.0 C1740.8,1214.3 1729.3,1228.0 1720.0,1236.0 C1710.7,1244.0 1698.3,1247.7 1694.0,1250.0" fill="none" stroke="#5e0e0e" stroke-width="1.3"/><path d="M1617.0,757.0 C1619.2,761.2 1626.2,772.8 1630.0,782.0 C1633.8,791.2 1637.2,800.7 1640.0,812.0 C1642.8,823.3 1645.2,835.3 1647.0,850.0 C1648.8,864.7 1650.3,883.2 1651.0,900.0 C1651.7,916.8 1651.8,931.8 1651.0,951.0 C1650.2,970.2 1649.3,993.8 1646.0,1015.0 C1642.7,1036.2 1637.8,1056.8 1631.0,1078.0 C1624.2,1099.2 1615.7,1120.7 1605.0,1142.0 C1594.3,1163.3 1579.7,1188.5 1567.0,1206.0 C1554.3,1223.5 1541.8,1235.3 1529.0,1247.0 C1516.2,1258.7 1496.5,1271.2 1490.0,1276.0 L1508.0,1276.0 C1513.5,1272.0 1529.0,1262.3 1541.0,1252.0 C1553.0,1241.7 1567.2,1230.2 1580.0,1214.0 C1592.8,1197.8 1607.5,1175.5 1618.0,1155.0 C1628.5,1134.5 1636.2,1112.3 1643.0,1091.0 C1649.8,1069.7 1655.2,1050.3 1659.0,1027.0 C1662.8,1003.7 1664.8,972.2 1666.0,951.0 C1667.2,929.8 1666.8,918.5 1666.0,900.0 C1665.2,881.5 1663.7,857.5 1661.0,840.0 C1658.3,822.5 1654.5,807.3 1650.0,795.0 C1645.5,782.7 1639.5,772.3 1634.0,766.0 C1628.5,759.7 1619.8,758.5 1617.0,757.0 Z" fill="#1f5cf0"/><path d="M1617.0,757.0 C1619.2,761.2 1626.2,772.8 1630.0,782.0 C1633.8,791.2 1637.2,800.7 1640.0,812.0 C1642.8,823.3 1645.2,835.3 1647.0,850.0 C1648.8,864.7 1650.3,883.2 1651.0,900.0 C1651.7,916.8 1651.8,931.8 1651.0,951.0 C1650.2,970.2 1649.3,993.8 1646.0,1015.0 C1642.7,1036.2 1637.8,1056.8 1631.0,1078.0 C1624.2,1099.2 1615.7,1120.7 1605.0,1142.0 C1594.3,1163.3 1579.7,1188.5 1567.0,1206.0 C1554.3,1223.5 1541.8,1235.3 1529.0,1247.0 C1516.2,1258.7 1496.5,1271.2 1490.0,1276.0" fill="none" stroke="#0b2a80" stroke-width="1.6"/><path d="M1394.6,601.6 L1605,622 L1605,674 L1536,668 L1536,660 Q1528,652 1519,660 L1516,678 L1501,677 L1493,671 L1493,652 Q1485,643 1476,653 L1476,662 L1440,660 L1394.6,637 Z" fill="#1f5cf0"/><path d="M1477,663 Q1476,649 1485,648 Q1493,650 1493,671 L1493,677 L1484,676 L1440,669 L1440,660 Z" fill="#fff"/><path d="M1516,663 Q1517,653 1526,653 Q1535,655 1536,664 L1536,668 L1605,674 L1607.6,642.4 L1638,642 L1641,670.5 L1674,673 L1674,753 L1698,757 L1696,773 Q1656,766 1617,757 Q1580,737 1554,719 Q1530,695 1516,678 Z" fill="#d42a2a"/><path d="M1493,1279 Q1528,1257 1580,1237 Q1630,1228 1679,1234 L1682,1247 L1655,1249 L1655,1319 L1616,1322 L1616,1342 L1581,1339 L1581,1308 L1516,1300 L1516,1291 Q1507,1298 1499,1291 L1495,1282 Z" fill="#d42a2a"/><path d="M1371,1300 L1394,1285 L1451,1288 L1442,1301 Z" fill="#0c2d96"/><path d="M1371.4,1300 L1450,1300 L1452,1292 Q1462,1307 1473,1292 L1475,1281 L1492,1281 L1497,1291 Q1506,1300 1516,1292 L1516,1300 L1580.6,1308.5 L1580.6,1359.5 L1369.7,1329 Z" fill="#1f5cf0"/><path d="M1580.6,1359.5 L1612,1347 L1617,1341 L1580,1336 Z" fill="#0c2d96"/><path d="M1451,1284 L1475,1281 L1473,1292 Q1462,1307 1452,1292 Z" fill="#fff"/><path d="M1824,831 L1891,837 L1889,886 L1826.6,877 Z" fill="url(#gPin)"/><ellipse cx="1893" cy="861.5" rx="11.5" ry="24.5" fill="#7f726a" transform="rotate(7 1893 861.5)"/></g><linearGradient id="gShade" gradientUnits="userSpaceOnUse" x1="1180" y1="640" x2="1560" y2="1120"><stop offset="0" stop-color="#000" stop-opacity="0.66"/><stop offset="0.45" stop-color="#000" stop-opacity="0.42"/><stop offset="0.75" stop-color="#000" stop-opacity="0.08"/><stop offset="1" stop-color="#000" stop-opacity="0"/></linearGradient><g id="dweave"><path d="M700,300 L1750,300 L1750,1015 L700,910 Z" fill="url(#wZ1)"/><path d="M700,910 L1750,1015 L1750,1205 C1688.3,1204.5 1650.7,1204.5 1630.0,1202.0 C1609.3,1199.5 1594.3,1195.8 1576.0,1190.0 C1557.7,1184.2 1539.2,1175.0 1520.0,1167.0 C1500.8,1159.0 1481.0,1150.2 1461.0,1142.0 C1441.0,1133.8 1418.7,1126.2 1400.0,1118.0 C1381.3,1109.8 1365.7,1104.0 1349.0,1093.0 C1332.3,1082.0 1318.8,1065.5 1300.0,1052.0 C1281.2,1038.5 1261.0,1024.3 1236.0,1012.0 C1211.0,999.7 1178.0,988.3 1150.0,978.0 C1122.0,967.7 1093.0,960.5 1068.0,950.0 C1043.0,939.5 1028.0,930.0 1000.0,915.0 C972.0,900.0 916.7,869.2 900.0,860.0 Z" fill="url(#wZ2)"/><path d="M900.0,860.0 C916.7,869.2 972.0,900.0 1000.0,915.0 C1028.0,930.0 1043.0,939.5 1068.0,950.0 C1093.0,960.5 1122.0,967.7 1150.0,978.0 C1178.0,988.3 1211.0,999.7 1236.0,1012.0 C1261.0,1024.3 1281.2,1038.5 1300.0,1052.0 C1318.8,1065.5 1340.8,1086.2 1349.0,1093.0 L1349,1400 L700,1400 L700,860 Z" fill="url(#wZ3a)"/><path d="M1349.0,1093.0 C1357.5,1097.2 1381.3,1109.8 1400.0,1118.0 C1418.7,1126.2 1441.0,1133.8 1461.0,1142.0 C1481.0,1150.2 1500.8,1159.0 1520.0,1167.0 C1539.2,1175.0 1557.7,1184.2 1576.0,1190.0 C1594.3,1195.8 1609.3,1199.5 1630.0,1202.0 C1650.7,1204.5 1688.3,1204.5 1700.0,1205.0 L1700,1400 L1349,1400 Z" fill="url(#wZ3b)"/><path d="M900.0,860.0 C916.7,869.2 972.0,900.0 1000.0,915.0 C1028.0,930.0 1043.0,939.5 1068.0,950.0 C1093.0,960.5 1122.0,967.7 1150.0,978.0 C1178.0,988.3 1211.0,999.7 1236.0,1012.0 C1261.0,1024.3 1281.2,1038.5 1300.0,1052.0 C1318.8,1065.5 1332.3,1082.0 1349.0,1093.0 C1365.7,1104.0 1381.3,1109.8 1400.0,1118.0 C1418.7,1126.2 1441.0,1133.8 1461.0,1142.0 C1481.0,1150.2 1500.8,1159.0 1520.0,1167.0 C1539.2,1175.0 1557.7,1184.2 1576.0,1190.0 C1594.3,1195.8 1609.3,1199.5 1630.0,1202.0 C1650.7,1204.5 1688.3,1204.5 1700.0,1205.0" fill="none" stroke="#000" stroke-width="10" opacity="0.55" filter="url(#b3)"/><rect x="700" y="300" width="1050" height="1100" fill="url(#gShade)"/><path d="M900.0,860.0 C916.7,869.2 972.0,900.0 1000.0,915.0 C1028.0,930.0 1043.0,939.5 1068.0,950.0 C1093.0,960.5 1122.0,967.7 1150.0,978.0 C1178.0,988.3 1211.0,999.7 1236.0,1012.0 C1261.0,1024.3 1281.2,1038.5 1300.0,1052.0 C1318.8,1065.5 1332.3,1082.0 1349.0,1093.0 C1365.7,1104.0 1381.3,1109.8 1400.0,1118.0 C1418.7,1126.2 1441.0,1133.8 1461.0,1142.0 C1481.0,1150.2 1500.8,1159.0 1520.0,1167.0 C1539.2,1175.0 1557.7,1184.2 1576.0,1190.0 C1594.3,1195.8 1609.3,1199.5 1630.0,1202.0 C1650.7,1204.5 1688.3,1204.5 1700.0,1205.0 L1700,1400 L700,1400 Z" fill="#000" opacity="0.35"/></g><clipPath id="cDCarb"><path d="M1290.0,520.0 C1291.7,523.3 1297.0,534.0 1300.0,540.0 C1303.0,546.0 1304.3,547.7 1308.0,556.0 C1311.7,564.3 1316.7,579.0 1322.0,590.0 C1327.3,601.0 1334.0,612.8 1340.0,622.0 C1346.0,631.2 1351.7,638.8 1358.0,645.0 C1364.3,651.2 1369.3,655.3 1378.0,659.0 C1386.7,662.7 1398.0,664.8 1410.0,667.0 C1422.0,669.2 1437.5,670.7 1450.0,672.0 C1462.5,673.3 1474.0,674.0 1485.0,675.0 C1496.0,676.0 1510.8,677.5 1516.0,678.0 C1519.2,681.7 1528.7,693.2 1535.0,700.0 C1541.3,706.8 1546.5,712.8 1554.0,719.0 C1561.5,725.2 1571.5,731.8 1580.0,737.0 C1588.5,742.2 1598.8,746.7 1605.0,750.0 C1611.2,753.3 1615.0,755.8 1617.0,757.0 C1619.2,761.2 1626.2,772.8 1630.0,782.0 C1633.8,791.2 1637.2,800.7 1640.0,812.0 C1642.8,823.3 1645.2,835.3 1647.0,850.0 C1648.8,864.7 1650.3,883.2 1651.0,900.0 C1651.7,916.8 1651.8,931.8 1651.0,951.0 C1650.2,970.2 1649.3,993.8 1646.0,1015.0 C1642.7,1036.2 1637.8,1056.8 1631.0,1078.0 C1624.2,1099.2 1615.7,1120.7 1605.0,1142.0 C1594.3,1163.3 1579.7,1188.5 1567.0,1206.0 C1554.3,1223.5 1541.8,1235.3 1529.0,1247.0 C1516.2,1258.7 1496.5,1271.2 1490.0,1276.0 C1487.5,1276.2 1486.0,1277.3 1475.0,1277.0 C1464.0,1276.7 1443.8,1276.2 1424.0,1274.0 C1404.2,1271.8 1376.7,1269.2 1356.0,1264.0 C1335.3,1258.8 1317.0,1250.3 1300.0,1243.0 C1283.0,1235.7 1270.7,1229.7 1254.0,1220.0 C1237.3,1210.3 1217.0,1197.5 1200.0,1185.0 C1183.0,1172.5 1168.7,1159.5 1152.0,1145.0 C1135.3,1130.5 1117.0,1113.8 1100.0,1098.0 C1083.0,1082.2 1066.7,1066.3 1050.0,1050.0 C1033.3,1033.7 1008.3,1008.3 1000.0,1000.0 L1000,500 Z"/></clipPath><clipPath id="cCirc"><circle cx="1543.7" cy="982.2" r="487.5"/></clipPath><clipPath id="cCarbon"><path d="M553.0,360.0 C544.5,362.5 519.0,369.7 502.0,375.0 C485.0,380.3 468.0,385.8 451.0,392.0 C434.0,398.2 415.7,405.3 400.0,412.0 C384.3,418.7 376.8,420.0 357.0,432.0 C337.2,444.0 302.2,467.2 281.0,484.0 C259.8,500.8 248.2,515.3 230.0,533.0 C211.8,550.7 190.0,570.3 172.0,590.0 C154.0,609.7 137.0,630.3 122.0,651.0 C107.0,671.7 93.8,695.3 82.0,714.0 C70.2,732.7 60.6,748.0 51.0,763.0 C41.4,778.0 31.3,793.0 24.5,804.0 C17.7,815.0 13.2,821.7 10.0,829.0 C6.8,836.3 6.0,839.5 5.0,848.0 C4.0,856.5 4.2,854.7 4.0,880.0 C3.8,905.3 3.8,958.8 4.0,1000.0 C4.2,1041.2 3.0,1097.0 5.0,1127.0 C7.0,1157.0 10.5,1160.8 16.0,1180.0 C21.5,1199.2 30.3,1223.3 38.0,1242.0 C45.7,1260.7 54.0,1277.3 62.0,1292.0 C70.0,1306.7 78.2,1319.0 86.0,1330.0 C93.8,1341.0 97.7,1344.3 108.7,1358.0 C119.7,1371.7 136.3,1395.8 152.0,1412.0 C167.7,1428.2 188.2,1444.0 203.0,1455.0 C217.8,1466.0 230.3,1472.8 241.0,1478.0 C251.7,1483.2 258.0,1484.0 267.0,1486.0 C276.0,1488.0 287.8,1489.9 295.0,1490.0 C302.2,1490.1 307.6,1487.3 310.1,1486.7 C313.1,1484.6 321.9,1479.1 327.7,1474.0 C333.4,1468.8 339.1,1463.6 344.7,1455.9 C350.4,1448.1 357.0,1437.0 361.8,1427.5 C366.6,1418.1 370.3,1408.5 373.4,1399.1 C376.4,1389.7 378.6,1380.6 380.1,1371.1 C381.5,1361.7 381.9,1351.2 382.2,1342.7 C382.6,1334.1 382.5,1327.4 382.1,1319.9 C381.8,1312.4 381.1,1304.2 380.3,1297.7 C379.4,1291.1 378.3,1285.8 377.0,1280.7 C375.7,1275.7 374.2,1271.4 372.5,1267.3 C370.7,1263.2 367.6,1258.0 366.6,1256.1 C365.7,1255.6 363.9,1254.5 361.2,1253.0 C358.4,1251.4 353.7,1249.4 349.9,1247.1 C346.0,1244.7 341.5,1241.7 338.1,1238.9 C334.7,1236.2 332.4,1233.5 329.5,1230.4 C326.7,1227.3 322.4,1222.2 320.9,1220.5 C304.1,1218.2 297.2,1215.7 292.0,1214.0 C286.8,1212.3 281.7,1211.5 275.0,1209.0 C268.3,1206.5 258.3,1204.0 252.0,1199.0 C245.7,1194.0 241.2,1187.5 237.0,1179.0 C232.8,1170.5 229.1,1156.2 227.0,1148.0 C224.9,1139.8 225.0,1136.3 224.5,1130.0 C224.0,1123.7 223.8,1117.5 224.0,1110.0 C224.2,1102.5 224.8,1095.0 226.0,1085.0 C227.2,1075.0 228.4,1061.9 231.0,1050.0 C233.6,1038.1 236.0,1026.0 241.5,1013.5 C247.0,1001.0 254.8,988.0 263.8,975.3 C272.8,962.5 279.8,953.0 295.7,937.0 C311.6,921.0 338.2,897.7 359.4,879.6 C380.6,861.5 396.4,849.4 423.0,828.6 C449.6,807.8 489.5,778.4 519.0,755.0 C548.5,731.6 584.3,701.2 600.0,688.0 C615.7,674.8 610.8,678.0 613.0,676.0 L653.0,648.0 L699.0,618.0 C697.8,615.0 695.8,610.3 692.0,600.0 C688.2,589.7 682.2,571.8 676.0,556.0 C669.8,540.2 662.7,521.8 655.0,505.0 C647.3,488.2 638.7,470.8 630.0,455.0 C621.3,439.2 611.7,422.5 603.0,410.0 C594.3,397.5 586.3,388.3 578.0,380.0 C569.7,371.7 557.2,363.3 553.0,360.0 Z"/></clipPath><clipPath id="cRegC"><ellipse cx="326" cy="1356" rx="217.5" ry="199"/></clipPath><linearGradient id="gA1" gradientUnits="userSpaceOnUse" x1="470" y1="560" x2="560" y2="470"><stop offset="0" stop-color="#000"/><stop offset="1" stop-color="#fff"/></linearGradient><mask id="mA1" maskUnits="userSpaceOnUse" x="0" y="0" width="2400" height="1600"><rect x="300" y="250" width="500" height="450" fill="url(#gA1)"/></mask></defs>
<g clip-path="url(#cCarbon)">
<g filter="url(#b1)">
<rect x="0" y="300" width="760" height="1250" fill="url(#wA)"/>
<path d="M-10,770 L120,740 L300,900 L250,1000 L215,1100 L235,1170 L-10,1190 Z" fill="url(#wB)"/>
<path d="M-10,1190 L235,1170 L300,1215 L330,1500 L-10,1500 Z" fill="url(#wB2)"/>
<g clip-path="url(#cRegC)"><use href="#dweave" transform="matrix(0.45088,0.00413,0.00157,0.44533,-363.68,912.33)"/></g>
</g>
<path d="M553.0,360.0 C544.5,362.5 519.0,369.7 502.0,375.0 C485.0,380.3 468.0,385.8 451.0,392.0 C434.0,398.2 415.7,405.3 400.0,412.0 C384.3,418.7 364.2,428.7 357.0,432.0" fill="none" stroke="url(#wE3)" stroke-width="64"/>
<path d="M400.0,412.0 C392.8,415.3 376.8,420.0 357.0,432.0 C337.2,444.0 302.2,467.2 281.0,484.0 C259.8,500.8 248.2,515.3 230.0,533.0 C211.8,550.7 190.0,570.3 172.0,590.0 C154.0,609.7 137.0,630.3 122.0,651.0 C107.0,671.7 88.7,703.5 82.0,714.0" fill="none" stroke="url(#wE1)" stroke-width="124"/>
<path d="M122.0,651.0 C115.3,661.5 93.8,695.3 82.0,714.0 C70.2,732.7 60.6,748.0 51.0,763.0 C41.4,778.0 31.3,793.0 24.5,804.0 C17.7,815.0 13.2,821.7 10.0,829.0 C6.8,836.3 5.8,844.8 5.0,848.0" fill="none" stroke="url(#wE2)" stroke-width="110"/>
<path d="M553.0,360.0 C544.5,362.5 519.0,369.7 502.0,375.0 C485.0,380.3 468.0,385.8 451.0,392.0 C434.0,398.2 415.7,405.3 400.0,412.0 C384.3,418.7 376.8,420.0 357.0,432.0 C337.2,444.0 302.2,467.2 281.0,484.0 C259.8,500.8 248.2,515.3 230.0,533.0 C211.8,550.7 190.0,570.3 172.0,590.0 C154.0,609.7 137.0,630.3 122.0,651.0 C107.0,671.7 93.8,695.3 82.0,714.0 C70.2,732.7 60.6,748.0 51.0,763.0 C41.4,778.0 31.3,793.0 24.5,804.0 C17.7,815.0 13.2,821.7 10.0,829.0 C6.8,836.3 6.0,839.5 5.0,848.0 C4.0,856.5 4.2,854.7 4.0,880.0 C3.8,905.3 3.8,958.8 4.0,1000.0 C4.2,1041.2 3.0,1097.0 5.0,1127.0 C7.0,1157.0 14.2,1171.2 16.0,1180.0" fill="none" stroke="#000" stroke-width="50" opacity="0.9" filter="url(#b14)"/>
<path d="M5.0,1127.0 C6.8,1135.8 10.5,1160.8 16.0,1180.0 C21.5,1199.2 30.3,1223.3 38.0,1242.0 C45.7,1260.7 54.0,1277.3 62.0,1292.0 C70.0,1306.7 78.2,1319.0 86.0,1330.0 C93.8,1341.0 97.7,1344.3 108.7,1358.0 C119.7,1371.7 136.3,1395.8 152.0,1412.0 C167.7,1428.2 188.2,1444.0 203.0,1455.0 C217.8,1466.0 230.3,1472.8 241.0,1478.0 C251.7,1483.2 258.0,1484.0 267.0,1486.0 C276.0,1488.0 287.8,1489.9 295.0,1490.0 C302.2,1490.1 307.6,1487.3 310.1,1486.7" fill="none" stroke="#000" stroke-width="26" opacity="0.75" filter="url(#b6)"/>
<path d="M553.0,360.0 C544.5,362.5 519.0,369.7 502.0,375.0 C485.0,380.3 468.0,385.8 451.0,392.0 C434.0,398.2 415.7,405.3 400.0,412.0 C384.3,418.7 376.8,420.0 357.0,432.0 C337.2,444.0 302.2,467.2 281.0,484.0 C259.8,500.8 248.2,515.3 230.0,533.0 C211.8,550.7 190.0,570.3 172.0,590.0 C154.0,609.7 137.0,630.3 122.0,651.0 C107.0,671.7 93.8,695.3 82.0,714.0 C70.2,732.7 60.6,748.0 51.0,763.0 C41.4,778.0 31.3,793.0 24.5,804.0 C17.7,815.0 13.2,821.7 10.0,829.0 C6.8,836.3 5.8,844.8 5.0,848.0" fill="none" stroke="#000" stroke-width="200" opacity="0.5" filter="url(#b30)"/>
<ellipse cx="70" cy="1000" rx="140" ry="300" fill="#000" opacity="0.3" filter="url(#b30)"/>
<path d="M553,360 L640,470" fill="none" stroke="#000" stroke-width="50" opacity="0.55" filter="url(#b14)"/>
<path d="M613.0,676.0 C610.8,678.0 615.7,674.8 600.0,688.0 C584.3,701.2 548.5,731.6 519.0,755.0 C489.5,778.4 449.6,807.8 423.0,828.6 C396.4,849.4 380.6,861.5 359.4,879.6 C338.2,897.7 311.6,921.0 295.7,937.0 C279.8,953.0 272.8,962.5 263.8,975.3 C254.8,988.0 247.0,1001.0 241.5,1013.5 C236.0,1026.0 233.6,1038.1 231.0,1050.0 C228.4,1061.9 227.2,1075.0 226.0,1085.0 C224.8,1095.0 224.2,1102.5 224.0,1110.0 C223.8,1117.5 224.0,1123.7 224.5,1130.0 C225.0,1136.3 224.9,1139.8 227.0,1148.0 C229.1,1156.2 232.8,1170.5 237.0,1179.0 C241.2,1187.5 245.7,1194.0 252.0,1199.0 C258.3,1204.0 268.3,1206.5 275.0,1209.0 C281.7,1211.5 286.8,1212.3 292.0,1214.0 C297.2,1215.7 304.1,1218.2 306.5,1219.1" fill="none" stroke="#000" stroke-width="22" opacity="0.5" filter="url(#b6)"/>
</g>
<path d="M600.0,688.0 C586.5,699.2 548.5,731.6 519.0,755.0 C489.5,778.4 449.6,807.8 423.0,828.6 C396.4,849.4 380.6,861.5 359.4,879.6 C338.2,897.7 311.6,921.0 295.7,937.0 C279.8,953.0 272.8,962.5 263.8,975.3 C254.8,988.0 247.0,1001.0 241.5,1013.5 C236.0,1026.0 233.6,1038.1 231.0,1050.0 C228.4,1061.9 227.2,1075.0 226.0,1085.0 C224.8,1095.0 224.2,1102.5 224.0,1110.0 C223.8,1117.5 224.4,1126.7 224.5,1130.0 C228.7,1153.2 232.8,1170.5 237.0,1179.0 C241.2,1187.5 249.5,1195.7 252.0,1199.0 L265.0,1181.0 C263.8,1179.2 260.7,1175.2 258.0,1170.0 C255.3,1164.8 250.7,1161.7 249.0,1150.0 C247.3,1138.3 247.7,1114.3 248.0,1100.0 C248.3,1085.7 248.8,1077.8 251.0,1064.0 C253.2,1050.2 256.2,1030.7 261.0,1017.0 C265.8,1003.3 271.5,994.3 280.0,982.0 C288.5,969.7 298.8,956.3 312.0,943.0 C325.2,929.7 340.5,916.8 359.0,902.0 C377.5,887.2 396.3,871.0 423.0,854.0 C449.7,837.0 496.2,812.2 519.0,800.0 C541.8,787.8 546.2,788.5 560.0,781.0 C573.8,773.5 595.0,759.3 602.0,755.0 L584.0,741.0 L600.0,683.0 Z" fill="#0a0a0a"/>
<path d="M600.0,688.0 C586.5,699.2 548.5,731.6 519.0,755.0 C489.5,778.4 449.6,807.8 423.0,828.6 C396.4,849.4 380.6,861.5 359.4,879.6 C338.2,897.7 311.6,921.0 295.7,937.0 C279.8,953.0 272.8,962.5 263.8,975.3 C254.8,988.0 247.0,1001.0 241.5,1013.5 C236.0,1026.0 233.6,1038.1 231.0,1050.0 C228.4,1061.9 227.2,1075.0 226.0,1085.0 C224.8,1095.0 224.2,1102.5 224.0,1110.0 C223.8,1117.5 224.4,1126.7 224.5,1130.0 C228.7,1153.2 232.8,1170.5 237.0,1179.0 C241.2,1187.5 249.5,1195.7 252.0,1199.0 L265.0,1181.0 C263.8,1179.2 260.7,1175.2 258.0,1170.0 C255.3,1164.8 250.7,1161.7 249.0,1150.0 C247.3,1138.3 247.7,1114.3 248.0,1100.0 C248.3,1085.7 248.8,1077.8 251.0,1064.0 C253.2,1050.2 256.2,1030.7 261.0,1017.0 C265.8,1003.3 271.5,994.3 280.0,982.0 C288.5,969.7 298.8,956.3 312.0,943.0 C325.2,929.7 340.5,916.8 359.0,902.0 C377.5,887.2 396.3,871.0 423.0,854.0 C449.7,837.0 496.2,812.2 519.0,800.0 C541.8,787.8 546.2,788.5 560.0,781.0 C573.8,773.5 595.0,759.3 602.0,755.0 L584.0,741.0 L600.0,683.0 Z" fill="url(#wE1)" opacity="0.45"/>
<path d="M400.0,412.0 C392.8,415.3 376.8,420.0 357.0,432.0 C337.2,444.0 302.2,467.2 281.0,484.0 C259.8,500.8 248.2,515.3 230.0,533.0 C211.8,550.7 190.0,570.3 172.0,590.0 C154.0,609.7 137.0,630.3 122.0,651.0 C107.0,671.7 93.8,695.3 82.0,714.0 C70.2,732.7 60.6,748.0 51.0,763.0 C41.4,778.0 31.3,793.0 24.5,804.0 C17.7,815.0 13.2,821.7 10.0,829.0 C6.8,836.3 6.0,839.5 5.0,848.0 C4.0,856.5 4.2,854.7 4.0,880.0 C3.8,905.3 3.8,958.8 4.0,1000.0 C4.2,1041.2 3.0,1097.0 5.0,1127.0 C7.0,1157.0 10.5,1160.8 16.0,1180.0 C21.5,1199.2 30.3,1223.3 38.0,1242.0 C45.7,1260.7 54.0,1277.3 62.0,1292.0 C70.0,1306.7 78.2,1319.0 86.0,1330.0 C93.8,1341.0 97.7,1344.3 108.7,1358.0 C119.7,1371.7 136.3,1395.8 152.0,1412.0 C167.7,1428.2 188.2,1444.0 203.0,1455.0 C217.8,1466.0 230.3,1472.8 241.0,1478.0 C251.7,1483.2 258.0,1484.0 267.0,1486.0 C276.0,1488.0 287.8,1489.9 295.0,1490.0 C302.2,1490.1 307.6,1487.3 310.1,1486.7" fill="none" stroke="#1a1a1a" stroke-width="6.5"/>
<path d="M400.0,412.0 C392.8,415.3 376.8,420.0 357.0,432.0 C337.2,444.0 302.2,467.2 281.0,484.0 C259.8,500.8 248.2,515.3 230.0,533.0 C211.8,550.7 190.0,570.3 172.0,590.0 C154.0,609.7 137.0,630.3 122.0,651.0 C107.0,671.7 93.8,695.3 82.0,714.0 C70.2,732.7 60.6,748.0 51.0,763.0 C41.4,778.0 31.3,793.0 24.5,804.0 C17.7,815.0 13.2,821.7 10.0,829.0 C6.8,836.3 6.0,839.5 5.0,848.0 C4.0,856.5 4.2,854.7 4.0,880.0 C3.8,905.3 3.8,958.8 4.0,1000.0 C4.2,1041.2 3.0,1097.0 5.0,1127.0 C7.0,1157.0 10.5,1160.8 16.0,1180.0 C21.5,1199.2 30.3,1223.3 38.0,1242.0 C45.7,1260.7 54.0,1277.3 62.0,1292.0 C70.0,1306.7 78.2,1319.0 86.0,1330.0 C93.8,1341.0 97.7,1344.3 108.7,1358.0 C119.7,1371.7 136.3,1395.8 152.0,1412.0 C167.7,1428.2 188.2,1444.0 203.0,1455.0 C217.8,1466.0 230.3,1472.8 241.0,1478.0 C251.7,1483.2 258.0,1484.0 267.0,1486.0 C276.0,1488.0 287.8,1489.9 295.0,1490.0 C302.2,1490.1 307.6,1487.3 310.1,1486.7" fill="none" stroke="#fff" stroke-width="3.8"/>
<path d="M613.0,676.0 C610.8,678.0 615.7,674.8 600.0,688.0 C584.3,701.2 548.5,731.6 519.0,755.0 C489.5,778.4 449.6,807.8 423.0,828.6 C396.4,849.4 380.6,861.5 359.4,879.6 C338.2,897.7 311.6,921.0 295.7,937.0 C279.8,953.0 272.8,962.5 263.8,975.3 C254.8,988.0 247.0,1001.0 241.5,1013.5 C236.0,1026.0 233.6,1038.1 231.0,1050.0 C228.4,1061.9 227.2,1075.0 226.0,1085.0 C224.8,1095.0 224.2,1102.5 224.0,1110.0 C223.8,1117.5 224.0,1123.7 224.5,1130.0 C225.0,1136.3 224.9,1139.8 227.0,1148.0 C229.1,1156.2 232.8,1170.5 237.0,1179.0 C241.2,1187.5 245.7,1194.0 252.0,1199.0 C258.3,1204.0 268.3,1206.5 275.0,1209.0 C281.7,1211.5 289.2,1213.2 292.0,1214.0" fill="none" stroke="#1a1a1a" stroke-width="7"/>
<path d="M613.0,676.0 C610.8,678.0 615.7,674.8 600.0,688.0 C584.3,701.2 548.5,731.6 519.0,755.0 C489.5,778.4 449.6,807.8 423.0,828.6 C396.4,849.4 380.6,861.5 359.4,879.6 C338.2,897.7 311.6,921.0 295.7,937.0 C279.8,953.0 272.8,962.5 263.8,975.3 C254.8,988.0 247.0,1001.0 241.5,1013.5 C236.0,1026.0 233.6,1038.1 231.0,1050.0 C228.4,1061.9 227.2,1075.0 226.0,1085.0 C224.8,1095.0 224.2,1102.5 224.0,1110.0 C223.8,1117.5 224.0,1123.7 224.5,1130.0 C225.0,1136.3 224.9,1139.8 227.0,1148.0 C229.1,1156.2 232.8,1170.5 237.0,1179.0 C241.2,1187.5 245.7,1194.0 252.0,1199.0 C258.3,1204.0 268.3,1206.5 275.0,1209.0 C281.7,1211.5 289.2,1213.2 292.0,1214.0" fill="none" stroke="#fff" stroke-width="4.2"/>
<defs><linearGradient id="gInt" gradientUnits="userSpaceOnUse" x1="700" y1="215" x2="885" y2="640"><stop offset="0" stop-color="#131313"/><stop offset="0.1" stop-color="#262626"/><stop offset="0.25" stop-color="#4a4a4a"/><stop offset="0.42" stop-color="#7c7c7c"/><stop offset="0.58" stop-color="#a6a6a6"/><stop offset="0.72" stop-color="#c6c6c6"/><stop offset="0.85" stop-color="#a6a6a6"/><stop offset="1" stop-color="#787878"/></linearGradient><radialGradient id="gHi" gradientUnits="userSpaceOnUse" cx="745" cy="510" r="120"><stop offset="0" stop-color="#fff" stop-opacity="0.42"/><stop offset="1" stop-color="#fff" stop-opacity="0"/></radialGradient><linearGradient id="gIntR" gradientUnits="userSpaceOnUse" x1="760" y1="470" x2="930" y2="410"><stop offset="0" stop-color="#000" stop-opacity="0"/><stop offset="1" stop-color="#000" stop-opacity="0.28"/></linearGradient><linearGradient id="gDk" gradientUnits="userSpaceOnUse" x1="640" y1="720" x2="900" y2="600"><stop offset="0" stop-color="#1f1f1f"/><stop offset="0.5" stop-color="#2e2e2e"/><stop offset="1" stop-color="#3a3a3a"/></linearGradient><linearGradient id="gUp" gradientUnits="userSpaceOnUse" x1="600" y1="265" x2="622" y2="310"><stop offset="0" stop-color="#2c2c2c"/><stop offset="0.6" stop-color="#454545"/><stop offset="1" stop-color="#585858"/></linearGradient></defs>
<path d="M737.0,212.5 C740.8,212.8 752.0,211.2 760.0,214.0 C768.0,216.8 777.0,222.3 785.0,229.0 C793.0,235.7 800.5,244.0 808.0,254.0 C815.5,264.0 822.5,275.7 830.0,289.0 C837.5,302.3 845.5,318.0 853.0,334.0 C860.5,350.0 868.0,368.2 875.0,385.0 C882.0,401.8 888.5,417.5 895.0,435.0 C901.5,452.5 908.7,473.3 914.0,490.0 C919.3,506.7 923.5,522.5 927.0,535.0 C930.5,547.5 933.0,555.0 935.0,565.0 C937.0,575.0 939.2,585.5 939.0,595.0 C938.8,604.5 937.2,615.5 934.0,622.0 C930.8,628.5 922.3,632.0 920.0,634.0 L905.0,630.0 L870.0,610.0 L812.0,526.0 L722.0,302.0 L716.0,277.0 L717.0,241.0 Z" fill="#2b2b2b"/>
<path d="M553.0,360.0 C557.5,357.2 571.3,347.8 580.0,343.0 C588.7,338.2 596.7,334.5 605.0,331.0 C613.3,327.5 621.5,324.7 630.0,322.0 C638.5,319.3 647.7,316.8 656.0,315.0 C664.3,313.2 672.7,312.2 680.0,311.0 C687.3,309.8 693.0,309.5 700.0,308.0 C707.0,306.5 718.3,303.0 722.0,302.0 C721.7,296.7 719.8,279.7 720.0,270.0 C720.2,260.3 721.5,250.3 723.5,244.0 C725.5,237.7 728.5,234.5 732.0,232.0 C735.5,229.5 739.8,228.7 744.5,229.0 C749.2,229.3 754.2,230.5 760.0,234.0 C765.8,237.5 772.3,243.0 779.0,250.0 C785.7,257.0 792.5,266.0 800.0,276.0 C807.5,286.0 816.3,297.3 824.0,310.0 C831.7,322.7 839.0,337.0 846.0,352.0 C853.0,367.0 859.5,384.5 866.0,400.0 C872.5,415.5 879.0,430.0 885.0,445.0 C891.0,460.0 897.2,476.2 902.0,490.0 C906.8,503.8 910.5,515.5 914.0,528.0 C917.5,540.5 920.8,553.8 923.0,565.0 C925.2,576.2 928.0,586.5 927.0,595.0 C926.0,603.5 920.7,612.2 917.0,616.0 C913.3,619.8 909.5,619.0 905.0,618.0 C900.5,617.0 895.8,613.7 890.0,610.0 C884.2,606.3 877.0,601.0 870.0,596.0 C863.0,591.0 855.2,587.2 848.0,580.0 C840.8,572.8 833.0,562.0 827.0,553.0 C821.0,544.0 814.5,530.5 812.0,526.0 C808.3,528.3 797.8,534.3 790.0,540.0 C782.2,545.7 774.2,552.0 765.0,560.0 C755.8,568.0 745.2,579.0 735.0,588.0 C724.8,597.0 709.2,609.7 704.0,614.0 L699.0,618.0 C697.8,615.0 695.8,610.3 692.0,600.0 C688.2,589.7 682.2,571.8 676.0,556.0 C669.8,540.2 662.7,521.8 655.0,505.0 C647.3,488.2 638.7,470.8 630.0,455.0 C621.3,439.2 611.7,422.5 603.0,410.0 C594.3,397.5 586.3,388.3 578.0,380.0 C569.7,371.7 557.2,363.3 553.0,360.0 Z" fill="url(#gInt)"/>
<path d="M553.0,360.0 C557.5,357.2 571.3,347.8 580.0,343.0 C588.7,338.2 596.7,334.5 605.0,331.0 C613.3,327.5 621.5,324.7 630.0,322.0 C638.5,319.3 647.7,316.8 656.0,315.0 C664.3,313.2 672.7,312.2 680.0,311.0 C687.3,309.8 693.0,309.5 700.0,308.0 C707.0,306.5 718.3,303.0 722.0,302.0 C721.7,296.7 719.8,279.7 720.0,270.0 C720.2,260.3 721.5,250.3 723.5,244.0 C725.5,237.7 728.5,234.5 732.0,232.0 C735.5,229.5 739.8,228.7 744.5,229.0 C749.2,229.3 754.2,230.5 760.0,234.0 C765.8,237.5 772.3,243.0 779.0,250.0 C785.7,257.0 792.5,266.0 800.0,276.0 C807.5,286.0 816.3,297.3 824.0,310.0 C831.7,322.7 839.0,337.0 846.0,352.0 C853.0,367.0 859.5,384.5 866.0,400.0 C872.5,415.5 879.0,430.0 885.0,445.0 C891.0,460.0 897.2,476.2 902.0,490.0 C906.8,503.8 910.5,515.5 914.0,528.0 C917.5,540.5 920.8,553.8 923.0,565.0 C925.2,576.2 928.0,586.5 927.0,595.0 C926.0,603.5 920.7,612.2 917.0,616.0 C913.3,619.8 909.5,619.0 905.0,618.0 C900.5,617.0 895.8,613.7 890.0,610.0 C884.2,606.3 877.0,601.0 870.0,596.0 C863.0,591.0 855.2,587.2 848.0,580.0 C840.8,572.8 833.0,562.0 827.0,553.0 C821.0,544.0 814.5,530.5 812.0,526.0 C808.3,528.3 797.8,534.3 790.0,540.0 C782.2,545.7 774.2,552.0 765.0,560.0 C755.8,568.0 745.2,579.0 735.0,588.0 C724.8,597.0 709.2,609.7 704.0,614.0 L699.0,618.0 C697.8,615.0 695.8,610.3 692.0,600.0 C688.2,589.7 682.2,571.8 676.0,556.0 C669.8,540.2 662.7,521.8 655.0,505.0 C647.3,488.2 638.7,470.8 630.0,455.0 C621.3,439.2 611.7,422.5 603.0,410.0 C594.3,397.5 586.3,388.3 578.0,380.0 C569.7,371.7 557.2,363.3 553.0,360.0 Z" fill="url(#gHi)"/>
<path d="M553.0,360.0 C557.5,357.2 571.3,347.8 580.0,343.0 C588.7,338.2 596.7,334.5 605.0,331.0 C613.3,327.5 621.5,324.7 630.0,322.0 C638.5,319.3 647.7,316.8 656.0,315.0 C664.3,313.2 672.7,312.2 680.0,311.0 C687.3,309.8 693.0,309.5 700.0,308.0 C707.0,306.5 718.3,303.0 722.0,302.0 C721.7,296.7 719.8,279.7 720.0,270.0 C720.2,260.3 721.5,250.3 723.5,244.0 C725.5,237.7 728.5,234.5 732.0,232.0 C735.5,229.5 739.8,228.7 744.5,229.0 C749.2,229.3 754.2,230.5 760.0,234.0 C765.8,237.5 772.3,243.0 779.0,250.0 C785.7,257.0 792.5,266.0 800.0,276.0 C807.5,286.0 816.3,297.3 824.0,310.0 C831.7,322.7 839.0,337.0 846.0,352.0 C853.0,367.0 859.5,384.5 866.0,400.0 C872.5,415.5 879.0,430.0 885.0,445.0 C891.0,460.0 897.2,476.2 902.0,490.0 C906.8,503.8 910.5,515.5 914.0,528.0 C917.5,540.5 920.8,553.8 923.0,565.0 C925.2,576.2 928.0,586.5 927.0,595.0 C926.0,603.5 920.7,612.2 917.0,616.0 C913.3,619.8 909.5,619.0 905.0,618.0 C900.5,617.0 895.8,613.7 890.0,610.0 C884.2,606.3 877.0,601.0 870.0,596.0 C863.0,591.0 855.2,587.2 848.0,580.0 C840.8,572.8 833.0,562.0 827.0,553.0 C821.0,544.0 814.5,530.5 812.0,526.0 C808.3,528.3 797.8,534.3 790.0,540.0 C782.2,545.7 774.2,552.0 765.0,560.0 C755.8,568.0 745.2,579.0 735.0,588.0 C724.8,597.0 709.2,609.7 704.0,614.0 L699.0,618.0 C697.8,615.0 695.8,610.3 692.0,600.0 C688.2,589.7 682.2,571.8 676.0,556.0 C669.8,540.2 662.7,521.8 655.0,505.0 C647.3,488.2 638.7,470.8 630.0,455.0 C621.3,439.2 611.7,422.5 603.0,410.0 C594.3,397.5 586.3,388.3 578.0,380.0 C569.7,371.7 557.2,363.3 553.0,360.0 Z" fill="url(#gIntR)"/>
<path d="M638,324 Q720,420 768,563" fill="none" stroke="#333" stroke-width="1.3"/>
<path d="M699.5,309 Q775,400 809,525" fill="none" stroke="#333" stroke-width="1.3"/>
<path d="M564,366 Q640,450 702,612" fill="none" stroke="#3a3a3a" stroke-width="1.2"/>
<path d="M737.0,212.5 C730.8,214.8 712.8,220.6 700.0,226.0 C687.2,231.4 673.7,237.8 660.0,245.0 C646.3,252.2 630.7,261.5 618.0,269.0 C605.3,276.5 593.0,283.7 584.0,290.0 C575.0,296.3 570.5,302.2 564.0,307.0 C557.5,311.8 550.2,316.2 545.0,319.0 C539.8,321.8 536.8,323.4 532.6,323.7 C528.4,324.0 523.4,321.4 520.0,321.0 C516.6,320.6 515.3,320.3 512.0,321.6 C508.7,322.9 503.4,326.8 500.0,329.0 C496.6,331.2 496.8,332.5 491.8,335.0 C486.8,337.5 478.5,340.5 470.0,344.0 C461.5,347.5 447.2,352.4 440.8,356.0 C434.4,359.6 433.1,363.9 431.6,365.5 C436.3,363.9 450.6,359.1 460.0,356.0 C469.4,352.9 481.8,348.0 487.8,347.0 C493.8,346.0 493.6,348.6 496.0,350.0 C498.4,351.4 499.3,354.8 502.0,355.3 C504.7,355.8 507.3,354.6 512.0,353.0 C516.7,351.4 523.2,349.0 530.0,346.0 C536.8,343.0 544.7,339.0 553.0,335.0 C561.3,331.0 571.5,326.1 580.0,322.0 C588.5,317.9 594.0,314.7 604.0,310.4 C614.0,306.1 627.3,300.1 640.0,296.0 C652.7,291.9 667.3,289.2 680.0,286.0 C692.7,282.8 710.0,278.5 716.0,277.0 L717.5,241.0 Z" fill="url(#gUp)"/>
<path d="M618,269 Q606,285 604,310" fill="none" stroke="#222" stroke-width="1.2"/>
<path d="M564,307 Q556,320 553,335" fill="none" stroke="#222" stroke-width="1.2"/>
<path d="M520,322 Q507,335 508,354" fill="none" stroke="#1c1c1c" stroke-width="3"/>
<path d="M431.6,365.5 L438.8,386 L481.6,370.6 L481.6,361.4 Q485,357 488.8,361.4 L496,376.7" fill="none" stroke="#222" stroke-width="1.6"/>
<path d="M431,368 L428.6,392 L400,401" fill="none" stroke="#222" stroke-width="1.6"/>
<path d="M821.0,552.0 C817.5,554.7 811.0,557.8 800.0,568.0 C789.0,578.2 770.2,600.3 755.0,613.0 C739.8,625.7 721.5,636.7 709.0,644.0 C696.5,651.3 688.8,653.2 680.0,657.0 C671.2,660.8 664.3,662.4 656.0,667.0 C647.7,671.6 634.5,679.0 630.0,684.6 C625.5,690.2 632.3,695.8 629.0,700.7 C625.7,705.6 616.5,709.6 610.0,714.0 C603.5,718.4 595.7,723.1 590.0,727.0 C584.3,730.9 578.1,735.6 575.7,737.3 C578.9,739.9 587.6,749.3 595.0,753.0 C602.4,756.7 612.8,759.1 620.0,759.6 C627.2,760.1 628.2,760.0 638.0,756.0 C647.8,752.0 668.1,740.8 678.6,735.7 C689.1,730.7 695.5,729.3 700.7,725.7 C705.9,722.1 704.7,718.0 709.6,714.0 C714.5,710.0 722.4,705.2 730.0,702.0 C737.6,698.8 742.3,698.7 755.0,695.0 C767.7,691.3 788.5,686.3 806.0,679.6 C823.5,672.9 841.3,663.5 860.0,655.0 C878.7,646.5 908.3,633.0 918.0,628.6 L917.0,616.0 C915.0,616.3 909.5,619.0 905.0,618.0 C900.5,617.0 895.8,613.7 890.0,610.0 C884.2,606.3 877.0,601.0 870.0,596.0 C863.0,591.0 855.2,587.2 848.0,580.0 C840.8,572.8 831.5,557.7 827.0,553.0 C822.5,548.3 822.0,552.2 821.0,552.0 Z" fill="url(#gDk)"/>
<path d="M630,690 Q650,735 700,726" fill="none" stroke="#151515" stroke-width="1.2"/>
<path d="M709,644 Q725,680 755,695" fill="none" stroke="#151515" stroke-width="1.2"/>
<path d="M755,613 Q775,655 806,679" fill="none" stroke="#151515" stroke-width="1.2"/>
<path d="M613,675.7 L618.6,693.6 L611,697 L606,691 L568.6,716.8 L573,727.5 L575.7,737.3 L630,700 L630,684 Z" fill="#fff"/>
<path d="M613,675.7 L618.6,693.6 L611,697 L606,691 L568.6,716.8 L573,727.5 L575.7,737.3" fill="none" stroke="#1c1c1c" stroke-width="1.8" stroke-linejoin="round"/>
<use href="#flange" transform="matrix(0.45088,0.00413,0.00157,0.44533,-363.68,912.33)"/>
<ellipse cx="326" cy="1356" rx="217.5" ry="199" fill="none" stroke="#111" stroke-width="4.2"/>
<path d="M539.5,1321.7 L948,1113" fill="none" stroke="#333" stroke-width="3.6"/>
<path d="M962,1104.5 L942,1105 L950.5,1120 Z" fill="#fff" stroke="#333" stroke-width="2.6" stroke-linejoin="miter"/>
<g clip-path="url(#cCirc)">
<g clip-path="url(#cDCarb)">
<use href="#dweave" filter="url(#b1d)"/>
<path d="M1290.0,520.0 C1291.7,523.3 1297.0,534.0 1300.0,540.0 C1303.0,546.0 1304.3,547.7 1308.0,556.0 C1311.7,564.3 1316.7,579.0 1322.0,590.0 C1327.3,601.0 1334.0,612.8 1340.0,622.0 C1346.0,631.2 1351.7,638.8 1358.0,645.0 C1364.3,651.2 1369.3,655.3 1378.0,659.0 C1386.7,662.7 1398.0,664.8 1410.0,667.0 C1422.0,669.2 1437.5,670.7 1450.0,672.0 C1462.5,673.3 1474.0,674.0 1485.0,675.0 C1496.0,676.0 1510.8,677.5 1516.0,678.0 C1519.2,681.7 1528.7,693.2 1535.0,700.0 C1541.3,706.8 1546.5,712.8 1554.0,719.0 C1561.5,725.2 1571.5,731.8 1580.0,737.0 C1588.5,742.2 1598.8,746.7 1605.0,750.0 C1611.2,753.3 1615.0,755.8 1617.0,757.0" fill="none" stroke="#000" stroke-width="56" opacity="0.6" filter="url(#b14)"/>
<path d="M1490.0,1276.0 C1487.5,1276.2 1486.0,1277.3 1475.0,1277.0 C1464.0,1276.7 1443.8,1276.2 1424.0,1274.0 C1404.2,1271.8 1376.7,1269.2 1356.0,1264.0 C1335.3,1258.8 1317.0,1250.3 1300.0,1243.0 C1283.0,1235.7 1270.7,1229.7 1254.0,1220.0 C1237.3,1210.3 1217.0,1197.5 1200.0,1185.0 C1183.0,1172.5 1168.7,1159.5 1152.0,1145.0 C1135.3,1130.5 1117.0,1113.8 1100.0,1098.0 C1083.0,1082.2 1066.7,1066.3 1050.0,1050.0 C1033.3,1033.7 1008.3,1008.3 1000.0,1000.0" fill="none" stroke="#000" stroke-width="40" opacity="0.7" filter="url(#b14)"/>
</g>
<path d="M1319,549 L1365,529 Q1375,590 1391,622 L1394,640 Q1420,655 1440,664 L1410,662 Q1375,655 1355,628 Q1335,600 1319,549 Z" fill="#0d0d0d"/>
<path d="M1319,549 L1365,529 Q1375,590 1391,622 L1394,640 Q1420,655 1440,664 L1410,662 Q1375,655 1355,628 Q1335,600 1319,549 Z" fill="url(#wT)" opacity="0.55" filter="url(#b1)"/>
<path d="M1311.0,550.0 C1312.5,554.2 1315.8,565.3 1320.0,575.0 C1324.2,584.7 1330.7,598.2 1336.0,608.0 C1341.3,617.8 1346.0,626.7 1352.0,634.0 C1358.0,641.3 1364.0,647.5 1372.0,652.0 C1380.0,656.5 1388.7,658.5 1400.0,661.0 C1411.3,663.5 1426.0,665.3 1440.0,667.0 C1454.0,668.7 1476.7,670.3 1484.0,671.0" fill="none" stroke="#fff" stroke-width="9"/>
<path d="M1040.0,1040.0 C1044.0,1044.5 1050.7,1051.2 1064.0,1067.0 C1077.3,1082.8 1099.7,1112.8 1120.0,1135.0 C1140.3,1157.2 1166.0,1182.8 1186.0,1200.0 C1206.0,1217.2 1223.0,1227.8 1240.0,1238.0 C1257.0,1248.2 1268.7,1253.8 1288.0,1261.0 C1307.3,1268.2 1337.3,1277.0 1356.0,1281.0 C1374.7,1285.0 1384.2,1284.3 1400.0,1285.0 C1415.8,1285.7 1442.5,1285.0 1451.0,1285.0" fill="none" stroke="#222" stroke-width="1.8"/>
</g>
<use href="#flange"/>
<path d="M1500.5,675.6 L1787.3,398 L1877.7,398" fill="none" stroke="#2b2b2b" stroke-width="2.6"/>
<path d="M1618,752 L1791,587.4 L1880,587.4" fill="none" stroke="#2b2b2b" stroke-width="2.6"/>
<path d="M1772,1218.7 L1856.4,1326 L1953,1326" fill="none" stroke="#2b2b2b" stroke-width="2.6"/>
<path d="M1395,1335.7 L1303.8,1430.7 L1190.5,1430.7" fill="none" stroke="#2b2b2b" stroke-width="2.6"/>
<text x="1891" y="396" font-size="28" fill="#333">Internal Thermal Spacer</text>
<text x="1891" y="429.8" font-size="28" fill="#333">Between Carbon Tube and Metal Flange</text>
<text x="1905.6" y="582.4" font-size="28" fill="#333">Smooth Machined Curve</text>
<text x="1905.6" y="616.4" font-size="28" fill="#333">To Match Turbo Inlet</text>
<text x="1967" y="1335.3" font-size="28" fill="#333">CNC Machined Flange</text>
<text x="761.6" y="1436.5" font-size="28" fill="#333">High Temperature Silicon Coupler</text>
<text x="261" y="274.3" font-size="28" font-weight="bold" fill="#2a2a2a" text-anchor="end">INLET CROSS SECTION</text>
</svg>
</body></html>
